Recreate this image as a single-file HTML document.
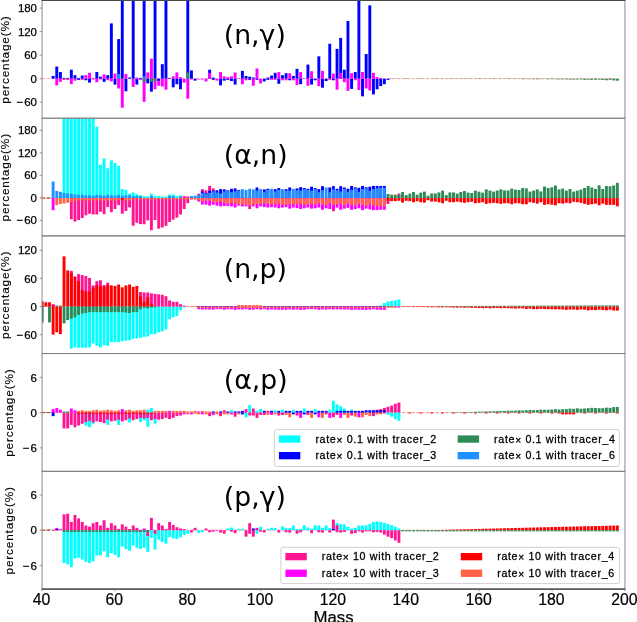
<!DOCTYPE html>
<html lang="en"><head><meta charset="utf-8"><title>Rate sensitivity by mass</title>
<style>html,body{margin:0;padding:0;background:#fff}svg{display:block}</style></head><body>
<svg width="637" height="622" viewBox="0 0 637 622">
<rect width="637" height="622" fill="#fff"/>
<defs>
<clipPath id="cp0"><rect x="42.05" y="0.5" width="582.9" height="117.7"/></clipPath>
<clipPath id="cp1"><rect x="42.05" y="118.2" width="582.9" height="117.7"/></clipPath>
<clipPath id="cp2"><rect x="42.05" y="235.9" width="582.9" height="117.7"/></clipPath>
<clipPath id="cp3"><rect x="42.05" y="353.6" width="582.9" height="117.7"/></clipPath>
<clipPath id="cp4"><rect x="42.05" y="471.3" width="582.9" height="117.7"/></clipPath>
</defs>
<g clip-path="url(#cp0)" shape-rendering="auto">
<line x1="42.05" x2="619" y1="78.7" y2="78.7" stroke="#ff0000" stroke-opacity="0.4" stroke-width="0.8" stroke-dasharray="3.2,1.6"/>
<rect x="51.67" y="75.95" width="2.91" height="2.75" fill="#0000ff"/>
<rect x="55.31" y="66.54" width="2.91" height="12.16" fill="#0000ff"/>
<rect x="55.31" y="78.7" width="2.91" height="6.67" fill="#ff00ff"/>
<rect x="58.95" y="72.03" width="2.91" height="6.67" fill="#0000ff"/>
<rect x="58.95" y="78.7" width="2.91" height="3.14" fill="#ff00ff"/>
<rect x="62.59" y="78.7" width="2.91" height="1.18" fill="#ff1493"/>
<rect x="62.59" y="77.92" width="2.91" height="0.78" fill="#0000ff"/>
<rect x="66.23" y="78.7" width="2.91" height="1.18" fill="#ff1493"/>
<rect x="66.23" y="77.92" width="2.91" height="0.78" fill="#0000ff"/>
<rect x="69.87" y="69.68" width="2.91" height="9.02" fill="#0000ff"/>
<rect x="69.87" y="78.7" width="2.91" height="5.49" fill="#ff00ff"/>
<rect x="73.51" y="75.17" width="2.91" height="3.53" fill="#0000ff"/>
<rect x="73.51" y="78.7" width="2.91" height="1.96" fill="#ff00ff"/>
<rect x="77.14" y="78.7" width="2.91" height="1.18" fill="#0000ff"/>
<rect x="77.14" y="77.92" width="2.91" height="0.78" fill="#0000ff"/>
<rect x="80.79" y="75.56" width="2.91" height="3.14" fill="#0000ff"/>
<rect x="80.79" y="78.7" width="2.91" height="1.18" fill="#ff00ff"/>
<rect x="84.42" y="75.17" width="2.91" height="3.53" fill="#ff00ff"/>
<rect x="84.42" y="78.7" width="2.91" height="1.57" fill="#0000ff"/>
<rect x="88.07" y="72.82" width="2.91" height="5.88" fill="#ff00ff"/>
<rect x="88.07" y="78.7" width="2.91" height="3.92" fill="#0000ff"/>
<rect x="91.7" y="77.92" width="2.91" height="0.78" fill="#ff00ff"/>
<rect x="91.7" y="78.7" width="2.91" height="0.78" fill="#ff1493"/>
<rect x="95.35" y="72.03" width="2.91" height="6.67" fill="#0000ff"/>
<rect x="95.35" y="78.7" width="2.91" height="3.53" fill="#ff00ff"/>
<rect x="98.98" y="76.74" width="2.91" height="1.96" fill="#0000ff"/>
<rect x="98.98" y="78.7" width="2.91" height="0.78" fill="#ff00ff"/>
<rect x="102.63" y="74.38" width="2.91" height="4.32" fill="#ff00ff"/>
<rect x="102.63" y="78.7" width="2.91" height="3.14" fill="#0000ff"/>
<rect x="106.27" y="75.17" width="2.91" height="3.53" fill="#0000ff"/>
<rect x="106.27" y="78.7" width="2.91" height="1.57" fill="#ff00ff"/>
<rect x="109.91" y="23.39" width="2.91" height="55.31" fill="#0000ff"/>
<rect x="109.91" y="78.7" width="2.91" height="2.75" fill="#ff00ff"/>
<rect x="113.55" y="78.7" width="2.91" height="5.88" fill="#0000ff"/>
<rect x="113.55" y="73.6" width="2.91" height="5.1" fill="#ff00ff"/>
<rect x="117.19" y="39.08" width="2.91" height="39.62" fill="#0000ff"/>
<rect x="117.19" y="78.7" width="2.91" height="9.81" fill="#ff00ff"/>
<rect x="117.19" y="73.99" width="2.91" height="4.71" fill="#1e90ff"/>
<rect x="120.83" y="-1.5" width="2.91" height="80.2" fill="#0000ff"/>
<rect x="120.83" y="78.7" width="2.91" height="29.03" fill="#ff00ff"/>
<rect x="124.47" y="78.7" width="2.91" height="12.55" fill="#0000ff"/>
<rect x="124.47" y="73.99" width="2.91" height="4.71" fill="#ff00ff"/>
<rect x="128.1" y="77.52" width="2.91" height="1.18" fill="#0000ff"/>
<rect x="131.74" y="-1.5" width="2.91" height="80.2" fill="#0000ff"/>
<rect x="131.74" y="78.7" width="2.91" height="8.24" fill="#ff00ff"/>
<rect x="135.38" y="78.7" width="2.91" height="5.88" fill="#0000ff"/>
<rect x="135.38" y="77.52" width="2.91" height="1.18" fill="#ff00ff"/>
<rect x="139.03" y="78.7" width="2.91" height="1.18" fill="#ff00ff"/>
<rect x="139.03" y="77.92" width="2.91" height="0.78" fill="#0000ff"/>
<rect x="142.66" y="-1.5" width="2.91" height="80.2" fill="#0000ff"/>
<rect x="142.66" y="78.7" width="2.91" height="23.15" fill="#ff00ff"/>
<rect x="142.66" y="78.7" width="2.91" height="3.14" fill="#2e8b57"/>
<rect x="142.66" y="76.35" width="2.91" height="2.35" fill="#1e90ff"/>
<rect x="146.3" y="72.42" width="2.91" height="6.28" fill="#ff00ff"/>
<rect x="146.3" y="78.7" width="2.91" height="4.71" fill="#0000ff"/>
<rect x="149.94" y="58.69" width="2.91" height="20.01" fill="#ff00ff"/>
<rect x="149.94" y="78.7" width="2.91" height="12.95" fill="#0000ff"/>
<rect x="149.94" y="78.7" width="2.91" height="3.14" fill="#2e8b57"/>
<rect x="153.59" y="-1.5" width="2.91" height="80.2" fill="#0000ff"/>
<rect x="153.59" y="78.7" width="2.91" height="10.59" fill="#ff00ff"/>
<rect x="153.59" y="78.7" width="2.91" height="2.75" fill="#2e8b57"/>
<rect x="157.22" y="78.7" width="2.91" height="7.06" fill="#ff00ff"/>
<rect x="157.22" y="78.7" width="2.91" height="1.96" fill="#0000ff"/>
<rect x="160.86" y="64.18" width="2.91" height="14.52" fill="#0000ff"/>
<rect x="160.86" y="78.7" width="2.91" height="7.85" fill="#ff00ff"/>
<rect x="164.5" y="-1.5" width="2.91" height="80.2" fill="#0000ff"/>
<rect x="164.5" y="78.7" width="2.91" height="10.98" fill="#ff00ff"/>
<rect x="168.15" y="77.92" width="2.91" height="0.78" fill="#0000ff"/>
<rect x="171.78" y="78.7" width="2.91" height="8.63" fill="#0000ff"/>
<rect x="171.78" y="76.35" width="2.91" height="2.35" fill="#ff00ff"/>
<rect x="175.42" y="72.42" width="2.91" height="6.28" fill="#ff00ff"/>
<rect x="175.42" y="78.7" width="2.91" height="5.49" fill="#0000ff"/>
<rect x="179.06" y="78.7" width="2.91" height="10.59" fill="#0000ff"/>
<rect x="179.06" y="77.13" width="2.91" height="1.57" fill="#ff00ff"/>
<rect x="182.71" y="78.7" width="2.91" height="3.92" fill="#ff00ff"/>
<rect x="186.34" y="-1.5" width="2.91" height="80.2" fill="#0000ff"/>
<rect x="186.34" y="78.7" width="2.91" height="20.01" fill="#ff00ff"/>
<rect x="186.34" y="72.42" width="2.91" height="6.28" fill="#2e8b57"/>
<rect x="189.98" y="70.46" width="2.91" height="8.24" fill="#0000ff"/>
<rect x="189.98" y="78.7" width="2.91" height="0.78" fill="#ff00ff"/>
<rect x="193.62" y="78.7" width="2.91" height="1.96" fill="#0000ff"/>
<rect x="197.27" y="78.7" width="2.91" height="0.78" fill="#ff00ff"/>
<rect x="200.91" y="78.7" width="2.91" height="0.78" fill="#ff00ff"/>
<rect x="204.54" y="78.7" width="2.91" height="2.75" fill="#ff00ff"/>
<rect x="208.18" y="69.68" width="2.91" height="9.02" fill="#0000ff"/>
<rect x="208.18" y="72.82" width="2.91" height="5.88" fill="#ff00ff"/>
<rect x="211.83" y="77.52" width="2.91" height="1.18" fill="#0000ff"/>
<rect x="211.83" y="78.7" width="2.91" height="1.18" fill="#0000ff"/>
<rect x="215.47" y="78.7" width="2.91" height="1.96" fill="#ff00ff"/>
<rect x="219.1" y="72.03" width="2.91" height="6.67" fill="#ff00ff"/>
<rect x="219.1" y="78.7" width="2.91" height="6.67" fill="#0000ff"/>
<rect x="222.74" y="76.35" width="2.91" height="2.35" fill="#ff00ff"/>
<rect x="222.74" y="78.7" width="2.91" height="1.96" fill="#0000ff"/>
<rect x="226.39" y="77.13" width="2.91" height="1.57" fill="#ff00ff"/>
<rect x="226.39" y="78.7" width="2.91" height="1.18" fill="#0000ff"/>
<rect x="230.03" y="76.35" width="2.91" height="2.35" fill="#ff00ff"/>
<rect x="230.03" y="78.7" width="2.91" height="2.35" fill="#0000ff"/>
<rect x="233.66" y="72.42" width="2.91" height="6.28" fill="#ff00ff"/>
<rect x="233.66" y="78.7" width="2.91" height="5.88" fill="#0000ff"/>
<rect x="237.3" y="78.31" width="2.91" height="0.39" fill="#0000ff"/>
<rect x="240.95" y="70.85" width="2.91" height="7.85" fill="#0000ff"/>
<rect x="240.95" y="78.7" width="2.91" height="5.49" fill="#ff00ff"/>
<rect x="244.59" y="75.95" width="2.91" height="2.75" fill="#0000ff"/>
<rect x="244.59" y="78.7" width="2.91" height="1.57" fill="#ff00ff"/>
<rect x="248.22" y="76.74" width="2.91" height="1.96" fill="#0000ff"/>
<rect x="248.22" y="78.7" width="2.91" height="1.18" fill="#0000ff"/>
<rect x="251.86" y="78.7" width="2.91" height="7.06" fill="#ff00ff"/>
<rect x="251.86" y="77.52" width="2.91" height="1.18" fill="#0000ff"/>
<rect x="255.51" y="68.5" width="2.91" height="10.2" fill="#ff00ff"/>
<rect x="255.51" y="78.7" width="2.91" height="1.18" fill="#0000ff"/>
<rect x="259.15" y="78.7" width="2.91" height="4.71" fill="#ff00ff"/>
<rect x="262.79" y="78.7" width="2.91" height="2.75" fill="#0000ff"/>
<rect x="266.43" y="77.52" width="2.91" height="1.18" fill="#0000ff"/>
<rect x="266.43" y="78.7" width="2.91" height="1.18" fill="#0000ff"/>
<rect x="270.07" y="75.56" width="2.91" height="3.14" fill="#0000ff"/>
<rect x="270.07" y="78.7" width="2.91" height="1.18" fill="#ff00ff"/>
<rect x="273.71" y="72.82" width="2.91" height="5.88" fill="#0000ff"/>
<rect x="273.71" y="78.7" width="2.91" height="1.18" fill="#ff00ff"/>
<rect x="277.35" y="72.03" width="2.91" height="6.67" fill="#ff00ff"/>
<rect x="277.35" y="78.7" width="2.91" height="5.1" fill="#0000ff"/>
<rect x="280.99" y="75.17" width="2.91" height="3.53" fill="#0000ff"/>
<rect x="280.99" y="78.7" width="2.91" height="1.57" fill="#ff00ff"/>
<rect x="284.62" y="73.21" width="2.91" height="5.49" fill="#0000ff"/>
<rect x="284.62" y="78.7" width="2.91" height="1.57" fill="#ff00ff"/>
<rect x="288.27" y="73.21" width="2.91" height="5.49" fill="#ff00ff"/>
<rect x="288.27" y="78.7" width="2.91" height="1.57" fill="#0000ff"/>
<rect x="291.91" y="75.95" width="2.91" height="2.75" fill="#0000ff"/>
<rect x="291.91" y="78.7" width="2.91" height="1.57" fill="#ff00ff"/>
<rect x="295.55" y="68.89" width="2.91" height="9.81" fill="#0000ff"/>
<rect x="295.55" y="78.7" width="2.91" height="6.28" fill="#ff00ff"/>
<rect x="299.19" y="72.03" width="2.91" height="6.67" fill="#ff00ff"/>
<rect x="299.19" y="78.7" width="2.91" height="5.49" fill="#0000ff"/>
<rect x="302.82" y="78.31" width="2.91" height="0.39" fill="#0000ff"/>
<rect x="306.47" y="64.58" width="2.91" height="14.12" fill="#0000ff"/>
<rect x="306.47" y="78.7" width="2.91" height="7.06" fill="#ff00ff"/>
<rect x="310.11" y="71.25" width="2.91" height="7.45" fill="#ff00ff"/>
<rect x="310.11" y="78.7" width="2.91" height="5.88" fill="#0000ff"/>
<rect x="313.75" y="78.7" width="2.91" height="1.57" fill="#0000ff"/>
<rect x="317.38" y="56.34" width="2.91" height="22.36" fill="#0000ff"/>
<rect x="317.38" y="78.7" width="2.91" height="7.45" fill="#ff00ff"/>
<rect x="321.03" y="78.7" width="2.91" height="9.02" fill="#0000ff"/>
<rect x="321.03" y="70.85" width="2.91" height="7.85" fill="#ff00ff"/>
<rect x="324.67" y="78.7" width="2.91" height="2.35" fill="#0000ff"/>
<rect x="328.31" y="43.79" width="2.91" height="34.91" fill="#0000ff"/>
<rect x="328.31" y="78.7" width="2.91" height="1.18" fill="#ff00ff"/>
<rect x="331.94" y="73.6" width="2.91" height="5.1" fill="#ff00ff"/>
<rect x="331.94" y="78.7" width="2.91" height="1.57" fill="#0000ff"/>
<rect x="335.59" y="48.89" width="2.91" height="29.81" fill="#0000ff"/>
<rect x="335.59" y="78.7" width="2.91" height="10.98" fill="#ff00ff"/>
<rect x="339.23" y="37.9" width="2.91" height="40.8" fill="#0000ff"/>
<rect x="339.23" y="72.82" width="2.91" height="5.88" fill="#ff00ff"/>
<rect x="342.87" y="69.68" width="2.91" height="9.02" fill="#0000ff"/>
<rect x="342.87" y="78.7" width="2.91" height="3.53" fill="#ff00ff"/>
<rect x="346.5" y="21.03" width="2.91" height="57.67" fill="#0000ff"/>
<rect x="346.5" y="78.7" width="2.91" height="12.16" fill="#ff00ff"/>
<rect x="350.15" y="78.7" width="2.91" height="10.2" fill="#0000ff"/>
<rect x="350.15" y="73.21" width="2.91" height="5.49" fill="#ff00ff"/>
<rect x="353.79" y="72.03" width="2.91" height="6.67" fill="#0000ff"/>
<rect x="353.79" y="78.7" width="2.91" height="1.57" fill="#ff00ff"/>
<rect x="357.43" y="-1.5" width="2.91" height="80.2" fill="#0000ff"/>
<rect x="357.43" y="78.7" width="2.91" height="11.38" fill="#ff00ff"/>
<rect x="361.06" y="78.7" width="2.91" height="17.65" fill="#0000ff"/>
<rect x="361.06" y="72.03" width="2.91" height="6.67" fill="#ff00ff"/>
<rect x="364.71" y="53.99" width="2.91" height="24.71" fill="#0000ff"/>
<rect x="364.71" y="78.7" width="2.91" height="9.81" fill="#ff00ff"/>
<rect x="368.35" y="5.34" width="2.91" height="73.36" fill="#0000ff"/>
<rect x="368.35" y="78.7" width="2.91" height="11.77" fill="#ff00ff"/>
<rect x="371.99" y="78.7" width="2.91" height="15.69" fill="#0000ff"/>
<rect x="371.99" y="72.82" width="2.91" height="5.88" fill="#ff00ff"/>
<rect x="375.62" y="78.7" width="2.91" height="10.59" fill="#0000ff"/>
<rect x="375.62" y="77.13" width="2.91" height="1.57" fill="#ff00ff"/>
<rect x="379.27" y="78.7" width="2.91" height="7.45" fill="#0000ff"/>
<rect x="379.27" y="77.92" width="2.91" height="0.78" fill="#ff00ff"/>
<rect x="382.91" y="78.7" width="2.91" height="5.49" fill="#0000ff"/>
<rect x="386.55" y="78.7" width="2.91" height="1.18" fill="#0000ff"/>
<rect x="390.19" y="78.5" width="2.91" height="0.2" fill="#ff0000"/>
<rect x="390.19" y="78.7" width="2.91" height="0.16" fill="#2e8b57"/>
<rect x="393.82" y="78.7" width="2.91" height="0.17" fill="#2e8b57"/>
<rect x="397.47" y="78.7" width="2.91" height="0.23" fill="#2e8b57"/>
<rect x="401.11" y="78.7" width="2.91" height="0.21" fill="#2e8b57"/>
<rect x="404.75" y="78.7" width="2.91" height="0.23" fill="#2e8b57"/>
<rect x="404.75" y="78.5" width="2.91" height="0.2" fill="#ff0000"/>
<rect x="408.38" y="78.7" width="2.91" height="0.18" fill="#2e8b57"/>
<rect x="412.03" y="78.7" width="2.91" height="0.15" fill="#2e8b57"/>
<rect x="415.67" y="78.7" width="2.91" height="0.17" fill="#2e8b57"/>
<rect x="419.31" y="78.7" width="2.91" height="0.23" fill="#2e8b57"/>
<rect x="419.31" y="78.5" width="2.91" height="0.2" fill="#ff0000"/>
<rect x="422.94" y="78.7" width="2.91" height="0.17" fill="#2e8b57"/>
<rect x="426.59" y="78.7" width="2.91" height="0.18" fill="#2e8b57"/>
<rect x="430.23" y="78.7" width="2.91" height="0.19" fill="#2e8b57"/>
<rect x="433.87" y="78.5" width="2.91" height="0.2" fill="#ff0000"/>
<rect x="433.87" y="78.7" width="2.91" height="0.19" fill="#2e8b57"/>
<rect x="437.5" y="78.7" width="2.91" height="0.19" fill="#2e8b57"/>
<rect x="441.15" y="78.7" width="2.91" height="0.25" fill="#2e8b57"/>
<rect x="444.79" y="78.7" width="2.91" height="0.16" fill="#2e8b57"/>
<rect x="448.43" y="78.5" width="2.91" height="0.2" fill="#ff0000"/>
<rect x="448.43" y="78.7" width="2.91" height="0.14" fill="#2e8b57"/>
<rect x="452.06" y="78.7" width="2.91" height="0.26" fill="#2e8b57"/>
<rect x="455.71" y="78.7" width="2.91" height="0.25" fill="#2e8b57"/>
<rect x="459.35" y="78.7" width="2.91" height="0.27" fill="#2e8b57"/>
<rect x="462.99" y="78.7" width="2.91" height="0.2" fill="#2e8b57"/>
<rect x="462.99" y="78.5" width="2.91" height="0.2" fill="#ff0000"/>
<rect x="466.62" y="78.7" width="2.91" height="0.27" fill="#2e8b57"/>
<rect x="470.27" y="78.7" width="2.91" height="0.27" fill="#2e8b57"/>
<rect x="473.91" y="78.7" width="2.91" height="0.19" fill="#2e8b57"/>
<rect x="477.55" y="78.7" width="2.91" height="0.26" fill="#2e8b57"/>
<rect x="477.55" y="78.5" width="2.91" height="0.2" fill="#ff0000"/>
<rect x="481.19" y="78.7" width="2.91" height="0.28" fill="#2e8b57"/>
<rect x="484.83" y="78.7" width="2.91" height="0.26" fill="#2e8b57"/>
<rect x="488.47" y="78.7" width="2.91" height="0.25" fill="#2e8b57"/>
<rect x="492.11" y="78.7" width="2.91" height="0.22" fill="#2e8b57"/>
<rect x="492.11" y="78.5" width="2.91" height="0.2" fill="#ff0000"/>
<rect x="495.75" y="78.7" width="2.91" height="0.24" fill="#2e8b57"/>
<rect x="499.39" y="78.7" width="2.91" height="0.23" fill="#2e8b57"/>
<rect x="503.03" y="78.7" width="2.91" height="0.21" fill="#2e8b57"/>
<rect x="506.67" y="78.7" width="2.91" height="0.31" fill="#2e8b57"/>
<rect x="506.67" y="78.5" width="2.91" height="0.2" fill="#ff0000"/>
<rect x="510.31" y="78.7" width="2.91" height="0.27" fill="#2e8b57"/>
<rect x="513.94" y="78.7" width="2.91" height="0.38" fill="#2e8b57"/>
<rect x="517.59" y="78.7" width="2.91" height="0.24" fill="#2e8b57"/>
<rect x="521.23" y="78.7" width="2.91" height="0.44" fill="#2e8b57"/>
<rect x="521.23" y="78.5" width="2.91" height="0.2" fill="#ff0000"/>
<rect x="524.87" y="78.7" width="2.91" height="0.41" fill="#2e8b57"/>
<rect x="528.5" y="78.7" width="2.91" height="0.49" fill="#2e8b57"/>
<rect x="532.14" y="78.7" width="2.91" height="0.51" fill="#2e8b57"/>
<rect x="535.78" y="78.7" width="2.91" height="0.54" fill="#2e8b57"/>
<rect x="535.78" y="78.5" width="2.91" height="0.2" fill="#ff0000"/>
<rect x="539.42" y="78.7" width="2.91" height="0.48" fill="#2e8b57"/>
<rect x="543.06" y="78.7" width="2.91" height="0.34" fill="#2e8b57"/>
<rect x="546.71" y="78.7" width="2.91" height="0.59" fill="#2e8b57"/>
<rect x="550.35" y="78.7" width="2.91" height="0.44" fill="#2e8b57"/>
<rect x="550.35" y="78.5" width="2.91" height="0.2" fill="#ff0000"/>
<rect x="553.99" y="78.7" width="2.91" height="0.51" fill="#2e8b57"/>
<rect x="557.62" y="78.7" width="2.91" height="0.67" fill="#2e8b57"/>
<rect x="561.26" y="78.7" width="2.91" height="0.66" fill="#2e8b57"/>
<rect x="564.9" y="78.7" width="2.91" height="0.65" fill="#2e8b57"/>
<rect x="564.9" y="78.5" width="2.91" height="0.2" fill="#ff0000"/>
<rect x="568.55" y="78.7" width="2.91" height="0.92" fill="#2e8b57"/>
<rect x="572.19" y="78.7" width="2.91" height="0.83" fill="#2e8b57"/>
<rect x="575.83" y="78.7" width="2.91" height="0.75" fill="#2e8b57"/>
<rect x="579.47" y="78.7" width="2.91" height="0.75" fill="#2e8b57"/>
<rect x="579.47" y="78.5" width="2.91" height="0.2" fill="#ff0000"/>
<rect x="583.11" y="78.7" width="2.91" height="1.13" fill="#2e8b57"/>
<rect x="586.75" y="78.7" width="2.91" height="0.97" fill="#2e8b57"/>
<rect x="590.38" y="78.7" width="2.91" height="1.22" fill="#2e8b57"/>
<rect x="594.02" y="78.7" width="2.91" height="1.01" fill="#2e8b57"/>
<rect x="594.02" y="78.5" width="2.91" height="0.2" fill="#ff0000"/>
<rect x="597.67" y="78.7" width="2.91" height="0.96" fill="#2e8b57"/>
<rect x="601.31" y="78.7" width="2.91" height="1.27" fill="#2e8b57"/>
<rect x="604.95" y="78.7" width="2.91" height="1.57" fill="#2e8b57"/>
<rect x="608.59" y="78.7" width="2.91" height="1.12" fill="#2e8b57"/>
<rect x="608.59" y="78.5" width="2.91" height="0.2" fill="#ff0000"/>
<rect x="612.23" y="78.7" width="2.91" height="1.74" fill="#2e8b57"/>
<rect x="615.87" y="78.7" width="2.91" height="1.97" fill="#2e8b57"/>
</g>
<g clip-path="url(#cp1)" shape-rendering="auto">
<line x1="42.05" x2="619" y1="198.15" y2="198.15" stroke="#ff0000" stroke-opacity="0.55" stroke-width="0.8" stroke-dasharray="3.2,1.6"/>
<line x1="42.05" x2="52" y1="198.15" y2="198.15" stroke="#ff0000" stroke-opacity="0.8" stroke-width="1" stroke-dasharray="3.2,1.6"/>
<rect x="44.39" y="197.78" width="2.91" height="0.38" fill="#2e8b57"/>
<rect x="48.03" y="197.7" width="2.91" height="0.45" fill="#2e8b57"/>
<rect x="51.67" y="181.56" width="2.91" height="16.59" fill="#1e90ff"/>
<rect x="51.67" y="198.15" width="2.91" height="12.04" fill="#ff00ff"/>
<rect x="55.31" y="190.97" width="2.91" height="7.18" fill="#1e90ff"/>
<rect x="55.31" y="198.15" width="2.91" height="6.94" fill="#ff6347"/>
<rect x="58.95" y="191.76" width="2.91" height="6.39" fill="#1e90ff"/>
<rect x="58.95" y="198.15" width="2.91" height="5.77" fill="#ff6347"/>
<rect x="62.59" y="116.2" width="2.91" height="81.95" fill="#00ffff"/>
<rect x="62.59" y="198.15" width="2.91" height="5.38" fill="#ff6347"/>
<rect x="62.59" y="192.94" width="2.91" height="5.21" fill="#1e90ff"/>
<rect x="66.23" y="116.2" width="2.91" height="81.95" fill="#00ffff"/>
<rect x="66.23" y="193.33" width="2.91" height="4.82" fill="#1e90ff"/>
<rect x="66.23" y="198.15" width="2.91" height="4.59" fill="#ff6347"/>
<rect x="69.87" y="116.2" width="2.91" height="81.95" fill="#00ffff"/>
<rect x="69.87" y="198.15" width="2.91" height="21.07" fill="#ff1493"/>
<rect x="69.87" y="193.72" width="2.91" height="4.43" fill="#1e90ff"/>
<rect x="69.87" y="198.15" width="2.91" height="3.75" fill="#ff6347"/>
<rect x="73.51" y="116.2" width="2.91" height="81.95" fill="#00ffff"/>
<rect x="73.51" y="198.15" width="2.91" height="23.42" fill="#ff1493"/>
<rect x="73.51" y="194.5" width="2.91" height="3.65" fill="#1e90ff"/>
<rect x="73.51" y="198.15" width="2.91" height="2.62" fill="#ff6347"/>
<rect x="77.14" y="116.2" width="2.91" height="81.95" fill="#00ffff"/>
<rect x="77.14" y="198.15" width="2.91" height="21.85" fill="#ff1493"/>
<rect x="77.14" y="194.9" width="2.91" height="3.25" fill="#1e90ff"/>
<rect x="77.14" y="198.15" width="2.91" height="2.25" fill="#ff6347"/>
<rect x="80.79" y="116.2" width="2.91" height="81.95" fill="#00ffff"/>
<rect x="80.79" y="198.15" width="2.91" height="19.89" fill="#ff1493"/>
<rect x="80.79" y="194.9" width="2.91" height="3.25" fill="#1e90ff"/>
<rect x="80.79" y="198.15" width="2.91" height="2.25" fill="#ff6347"/>
<rect x="84.42" y="116.2" width="2.91" height="81.95" fill="#00ffff"/>
<rect x="84.42" y="198.15" width="2.91" height="17.14" fill="#ff1493"/>
<rect x="84.42" y="195.29" width="2.91" height="2.86" fill="#1e90ff"/>
<rect x="84.42" y="198.15" width="2.91" height="2.25" fill="#ff6347"/>
<rect x="88.07" y="116.2" width="2.91" height="81.95" fill="#00ffff"/>
<rect x="88.07" y="198.15" width="2.91" height="15.57" fill="#ff1493"/>
<rect x="88.07" y="195.29" width="2.91" height="2.86" fill="#1e90ff"/>
<rect x="88.07" y="198.15" width="2.91" height="2.25" fill="#ff6347"/>
<rect x="91.7" y="116.2" width="2.91" height="81.95" fill="#00ffff"/>
<rect x="91.7" y="198.15" width="2.91" height="16.36" fill="#ff1493"/>
<rect x="91.7" y="195.68" width="2.91" height="2.47" fill="#1e90ff"/>
<rect x="91.7" y="198.15" width="2.91" height="2.25" fill="#ff6347"/>
<rect x="95.35" y="126.65" width="2.91" height="71.5" fill="#00ffff"/>
<rect x="95.35" y="198.15" width="2.91" height="16.36" fill="#ff1493"/>
<rect x="95.35" y="194.9" width="2.91" height="3.25" fill="#1e90ff"/>
<rect x="95.35" y="198.15" width="2.91" height="2.25" fill="#ff6347"/>
<rect x="98.98" y="164.69" width="2.91" height="33.46" fill="#00ffff"/>
<rect x="98.98" y="198.15" width="2.91" height="13.61" fill="#ff1493"/>
<rect x="98.98" y="195.29" width="2.91" height="2.86" fill="#1e90ff"/>
<rect x="98.98" y="198.15" width="2.91" height="2.25" fill="#ff6347"/>
<rect x="102.63" y="158.42" width="2.91" height="39.73" fill="#00ffff"/>
<rect x="102.63" y="198.15" width="2.91" height="15.97" fill="#ff1493"/>
<rect x="102.63" y="195.68" width="2.91" height="2.47" fill="#1e90ff"/>
<rect x="102.63" y="198.15" width="2.91" height="2.25" fill="#ff6347"/>
<rect x="106.27" y="168.22" width="2.91" height="29.93" fill="#00ffff"/>
<rect x="106.27" y="198.15" width="2.91" height="8.91" fill="#ff1493"/>
<rect x="106.27" y="194.9" width="2.91" height="3.25" fill="#1e90ff"/>
<rect x="106.27" y="198.15" width="2.91" height="2.25" fill="#ff6347"/>
<rect x="109.91" y="160.38" width="2.91" height="37.77" fill="#00ffff"/>
<rect x="109.91" y="198.15" width="2.91" height="14.01" fill="#ff1493"/>
<rect x="109.91" y="195.29" width="2.91" height="2.86" fill="#1e90ff"/>
<rect x="109.91" y="198.15" width="2.91" height="2.25" fill="#ff6347"/>
<rect x="113.55" y="163.12" width="2.91" height="35.03" fill="#00ffff"/>
<rect x="113.55" y="198.15" width="2.91" height="10.87" fill="#ff1493"/>
<rect x="113.55" y="195.68" width="2.91" height="2.47" fill="#1e90ff"/>
<rect x="113.55" y="198.15" width="2.91" height="2.25" fill="#ff6347"/>
<rect x="117.19" y="165.87" width="2.91" height="32.28" fill="#00ffff"/>
<rect x="117.19" y="198.15" width="2.91" height="6.94" fill="#ff1493"/>
<rect x="117.19" y="194.9" width="2.91" height="3.25" fill="#1e90ff"/>
<rect x="117.19" y="198.15" width="2.91" height="2.25" fill="#ff6347"/>
<rect x="120.83" y="198.15" width="2.91" height="15.57" fill="#ff1493"/>
<rect x="120.83" y="189.01" width="2.91" height="9.14" fill="#00ffff"/>
<rect x="120.83" y="195.68" width="2.91" height="2.47" fill="#1e90ff"/>
<rect x="120.83" y="198.15" width="2.91" height="2.25" fill="#ff0000"/>
<rect x="124.47" y="198.15" width="2.91" height="12.83" fill="#ff1493"/>
<rect x="124.47" y="189.8" width="2.91" height="8.35" fill="#00ffff"/>
<rect x="124.47" y="195.29" width="2.91" height="2.86" fill="#1e90ff"/>
<rect x="124.47" y="198.15" width="2.91" height="2.25" fill="#ff6347"/>
<rect x="128.1" y="198.15" width="2.91" height="9.3" fill="#ff1493"/>
<rect x="128.1" y="193.72" width="2.91" height="4.43" fill="#00ffff"/>
<rect x="128.1" y="195.29" width="2.91" height="2.86" fill="#1e90ff"/>
<rect x="128.1" y="198.15" width="2.91" height="2.25" fill="#ff6347"/>
<rect x="131.74" y="198.15" width="2.91" height="27.54" fill="#ff1493"/>
<rect x="131.74" y="192.54" width="2.91" height="5.61" fill="#00ffff"/>
<rect x="131.74" y="196.07" width="2.91" height="2.08" fill="#1e90ff"/>
<rect x="131.74" y="198.15" width="2.91" height="1.12" fill="#ff6347"/>
<rect x="135.38" y="198.15" width="2.91" height="24.6" fill="#ff1493"/>
<rect x="135.38" y="194.11" width="2.91" height="4.04" fill="#00ffff"/>
<rect x="135.38" y="196.07" width="2.91" height="2.08" fill="#1e90ff"/>
<rect x="135.38" y="198.15" width="2.91" height="1.12" fill="#ff6347"/>
<rect x="139.03" y="198.15" width="2.91" height="25.97" fill="#ff1493"/>
<rect x="139.03" y="195.29" width="2.91" height="2.86" fill="#00ffff"/>
<rect x="139.03" y="196.07" width="2.91" height="2.08" fill="#1e90ff"/>
<rect x="139.03" y="198.15" width="2.91" height="1.12" fill="#ff6347"/>
<rect x="142.66" y="198.15" width="2.91" height="25.97" fill="#ff1493"/>
<rect x="142.66" y="196.07" width="2.91" height="2.08" fill="#00ffff"/>
<rect x="142.66" y="198.15" width="2.91" height="1.12" fill="#ff6347"/>
<rect x="146.3" y="198.15" width="2.91" height="22.24" fill="#ff1493"/>
<rect x="146.3" y="196.47" width="2.91" height="1.68" fill="#00ffff"/>
<rect x="146.3" y="198.15" width="2.91" height="1.12" fill="#ff6347"/>
<rect x="149.94" y="198.15" width="2.91" height="32.05" fill="#ff1493"/>
<rect x="149.94" y="193.72" width="2.91" height="4.43" fill="#00ffff"/>
<rect x="149.94" y="196.07" width="2.91" height="2.08" fill="#1e90ff"/>
<rect x="149.94" y="198.15" width="2.91" height="1.12" fill="#ff6347"/>
<rect x="153.59" y="198.15" width="2.91" height="21.85" fill="#ff1493"/>
<rect x="153.59" y="196.07" width="2.91" height="2.08" fill="#00ffff"/>
<rect x="153.59" y="198.15" width="2.91" height="1.12" fill="#ff6347"/>
<rect x="157.22" y="198.15" width="2.91" height="30.48" fill="#ff1493"/>
<rect x="157.22" y="196.07" width="2.91" height="2.08" fill="#00ffff"/>
<rect x="157.22" y="198.15" width="2.91" height="1.12" fill="#ff6347"/>
<rect x="160.86" y="198.15" width="2.91" height="29.3" fill="#ff1493"/>
<rect x="160.86" y="196.47" width="2.91" height="1.68" fill="#00ffff"/>
<rect x="160.86" y="198.15" width="2.91" height="1.12" fill="#ff6347"/>
<rect x="164.5" y="198.15" width="2.91" height="27.73" fill="#ff1493"/>
<rect x="164.5" y="196.47" width="2.91" height="1.68" fill="#00ffff"/>
<rect x="164.5" y="198.15" width="2.91" height="1.12" fill="#ff6347"/>
<rect x="168.15" y="198.15" width="2.91" height="23.81" fill="#ff1493"/>
<rect x="168.15" y="194.5" width="2.91" height="3.65" fill="#00ffff"/>
<rect x="168.15" y="196.07" width="2.91" height="2.08" fill="#1e90ff"/>
<rect x="168.15" y="198.15" width="2.91" height="1.12" fill="#ff6347"/>
<rect x="171.78" y="198.15" width="2.91" height="21.46" fill="#ff1493"/>
<rect x="171.78" y="194.5" width="2.91" height="3.65" fill="#00ffff"/>
<rect x="171.78" y="196.07" width="2.91" height="2.08" fill="#1e90ff"/>
<rect x="171.78" y="198.15" width="2.91" height="1.12" fill="#ff6347"/>
<rect x="175.42" y="198.15" width="2.91" height="19.5" fill="#ff1493"/>
<rect x="175.42" y="196.07" width="2.91" height="2.08" fill="#00ffff"/>
<rect x="175.42" y="198.15" width="2.91" height="1.12" fill="#ff6347"/>
<rect x="179.06" y="198.15" width="2.91" height="16.36" fill="#ff1493"/>
<rect x="179.06" y="195.29" width="2.91" height="2.86" fill="#00ffff"/>
<rect x="179.06" y="196.47" width="2.91" height="1.68" fill="#1e90ff"/>
<rect x="179.06" y="198.15" width="2.91" height="1.12" fill="#ff6347"/>
<rect x="182.71" y="198.15" width="2.91" height="10.87" fill="#ff1493"/>
<rect x="182.71" y="196.07" width="2.91" height="2.08" fill="#ff1493"/>
<rect x="182.71" y="198.15" width="2.91" height="1.12" fill="#ff6347"/>
<rect x="186.34" y="198.15" width="2.91" height="4.98" fill="#ff1493"/>
<rect x="186.34" y="196.47" width="2.91" height="1.68" fill="#ff1493"/>
<rect x="186.34" y="198.15" width="2.91" height="1.12" fill="#ff6347"/>
<rect x="189.98" y="196.07" width="2.91" height="2.08" fill="#1e90ff"/>
<rect x="189.98" y="198.15" width="2.91" height="1.5" fill="#ff6347"/>
<rect x="193.62" y="195.68" width="2.91" height="2.47" fill="#1e90ff"/>
<rect x="193.62" y="198.15" width="2.91" height="1.5" fill="#ff6347"/>
<rect x="197.27" y="193.72" width="2.91" height="4.43" fill="#ff1493"/>
<rect x="197.27" y="198.15" width="2.91" height="3.38" fill="#ff00ff"/>
<rect x="197.27" y="194.9" width="2.91" height="3.25" fill="#1e90ff"/>
<rect x="197.27" y="198.15" width="2.91" height="1.88" fill="#ff6347"/>
<rect x="200.91" y="189.15" width="2.91" height="9" fill="#ff1493"/>
<rect x="200.91" y="191.4" width="2.91" height="6.75" fill="#0000ff"/>
<rect x="200.91" y="198.15" width="2.91" height="6.38" fill="#ff00ff"/>
<rect x="200.91" y="192.9" width="2.91" height="5.25" fill="#1e90ff"/>
<rect x="200.91" y="198.15" width="2.91" height="3.38" fill="#ff6347"/>
<rect x="204.54" y="190.28" width="2.91" height="7.88" fill="#ff1493"/>
<rect x="204.54" y="198.15" width="2.91" height="6.56" fill="#ff00ff"/>
<rect x="204.54" y="192.9" width="2.91" height="5.25" fill="#0000ff"/>
<rect x="204.54" y="193.65" width="2.91" height="4.5" fill="#1e90ff"/>
<rect x="204.54" y="198.15" width="2.91" height="2.62" fill="#ff6347"/>
<rect x="208.18" y="185.78" width="2.91" height="12.38" fill="#ff1493"/>
<rect x="208.18" y="190.65" width="2.91" height="7.5" fill="#0000ff"/>
<rect x="208.18" y="198.15" width="2.91" height="7.5" fill="#ff00ff"/>
<rect x="208.18" y="192.9" width="2.91" height="5.25" fill="#1e90ff"/>
<rect x="208.18" y="198.15" width="2.91" height="2.62" fill="#ff6347"/>
<rect x="211.83" y="188.4" width="2.91" height="9.75" fill="#ff1493"/>
<rect x="211.83" y="190.65" width="2.91" height="7.5" fill="#0000ff"/>
<rect x="211.83" y="191.4" width="2.91" height="6.75" fill="#1e90ff"/>
<rect x="211.83" y="198.15" width="2.91" height="6.56" fill="#ff00ff"/>
<rect x="211.83" y="198.15" width="2.91" height="4.12" fill="#ff6347"/>
<rect x="215.47" y="190.28" width="2.91" height="7.88" fill="#0000ff"/>
<rect x="215.47" y="198.15" width="2.91" height="7.5" fill="#ff00ff"/>
<rect x="215.47" y="192.53" width="2.91" height="5.62" fill="#1e90ff"/>
<rect x="215.47" y="198.15" width="2.91" height="4.12" fill="#ff6347"/>
<rect x="219.1" y="189.15" width="2.91" height="9" fill="#0000ff"/>
<rect x="219.1" y="198.15" width="2.91" height="8.25" fill="#ff00ff"/>
<rect x="219.1" y="193.46" width="2.91" height="4.69" fill="#1e90ff"/>
<rect x="219.1" y="198.15" width="2.91" height="3.38" fill="#ff6347"/>
<rect x="222.74" y="189.34" width="2.91" height="8.81" fill="#0000ff"/>
<rect x="222.74" y="198.15" width="2.91" height="7.88" fill="#ff00ff"/>
<rect x="222.74" y="191.4" width="2.91" height="6.75" fill="#1e90ff"/>
<rect x="222.74" y="198.15" width="2.91" height="4.69" fill="#ff6347"/>
<rect x="226.39" y="190.28" width="2.91" height="7.88" fill="#0000ff"/>
<rect x="226.39" y="198.15" width="2.91" height="7.88" fill="#ff00ff"/>
<rect x="226.39" y="190.65" width="2.91" height="7.5" fill="#1e90ff"/>
<rect x="226.39" y="198.15" width="2.91" height="5.81" fill="#ff6347"/>
<rect x="230.03" y="188.78" width="2.91" height="9.38" fill="#0000ff"/>
<rect x="230.03" y="198.15" width="2.91" height="8.25" fill="#ff00ff"/>
<rect x="230.03" y="192.15" width="2.91" height="6" fill="#1e90ff"/>
<rect x="230.03" y="198.15" width="2.91" height="4.69" fill="#ff6347"/>
<rect x="233.66" y="188.4" width="2.91" height="9.75" fill="#0000ff"/>
<rect x="233.66" y="198.15" width="2.91" height="9.38" fill="#ff00ff"/>
<rect x="233.66" y="191.4" width="2.91" height="6.75" fill="#1e90ff"/>
<rect x="233.66" y="198.15" width="2.91" height="5.47" fill="#ff6347"/>
<rect x="237.3" y="189.9" width="2.91" height="8.25" fill="#0000ff"/>
<rect x="237.3" y="190.65" width="2.91" height="7.5" fill="#1e90ff"/>
<rect x="237.3" y="198.15" width="2.91" height="7.5" fill="#ff00ff"/>
<rect x="237.3" y="198.15" width="2.91" height="6.26" fill="#ff6347"/>
<rect x="240.95" y="189.15" width="2.91" height="9" fill="#1e90ff"/>
<rect x="240.95" y="198.15" width="2.91" height="8.25" fill="#ff00ff"/>
<rect x="240.95" y="198.15" width="2.91" height="6.26" fill="#ff6347"/>
<rect x="244.59" y="189.9" width="2.91" height="8.25" fill="#1e90ff"/>
<rect x="244.59" y="198.15" width="2.91" height="8.25" fill="#ff00ff"/>
<rect x="244.59" y="198.15" width="2.91" height="6.6" fill="#ff6347"/>
<rect x="248.22" y="198.15" width="2.91" height="10.88" fill="#ff1493"/>
<rect x="248.22" y="188.78" width="2.91" height="9.38" fill="#1e90ff"/>
<rect x="248.22" y="198.15" width="2.91" height="6.9" fill="#ff6347"/>
<rect x="251.86" y="189.38" width="2.91" height="8.78" fill="#1e90ff"/>
<rect x="251.86" y="198.15" width="2.91" height="8.25" fill="#ff00ff"/>
<rect x="251.86" y="198.15" width="2.91" height="6.6" fill="#ff6347"/>
<rect x="255.51" y="187.46" width="2.91" height="10.69" fill="#0000ff"/>
<rect x="255.51" y="198.15" width="2.91" height="10.12" fill="#ff00ff"/>
<rect x="255.51" y="190.65" width="2.91" height="7.5" fill="#1e90ff"/>
<rect x="255.51" y="198.15" width="2.91" height="5.81" fill="#ff6347"/>
<rect x="259.15" y="189.15" width="2.91" height="9" fill="#1e90ff"/>
<rect x="259.15" y="198.15" width="2.91" height="8.25" fill="#ff00ff"/>
<rect x="259.15" y="198.15" width="2.91" height="5.81" fill="#ff6347"/>
<rect x="262.79" y="198.15" width="2.91" height="9" fill="#ff00ff"/>
<rect x="262.79" y="189.38" width="2.91" height="8.78" fill="#0000ff"/>
<rect x="262.79" y="191.89" width="2.91" height="6.26" fill="#1e90ff"/>
<rect x="262.79" y="198.15" width="2.91" height="5.03" fill="#ff6347"/>
<rect x="266.43" y="188.78" width="2.91" height="9.38" fill="#0000ff"/>
<rect x="266.43" y="198.15" width="2.91" height="9.38" fill="#ff00ff"/>
<rect x="266.43" y="189.9" width="2.91" height="8.25" fill="#1e90ff"/>
<rect x="266.43" y="198.15" width="2.91" height="5.81" fill="#ff6347"/>
<rect x="270.07" y="188.78" width="2.91" height="9.38" fill="#1e90ff"/>
<rect x="270.07" y="198.15" width="2.91" height="9" fill="#ff00ff"/>
<rect x="270.07" y="198.15" width="2.91" height="6.26" fill="#ff6347"/>
<rect x="273.71" y="198.15" width="2.91" height="9.38" fill="#ff00ff"/>
<rect x="273.71" y="189.15" width="2.91" height="9" fill="#0000ff"/>
<rect x="273.71" y="191.4" width="2.91" height="6.75" fill="#1e90ff"/>
<rect x="273.71" y="198.15" width="2.91" height="5.47" fill="#ff6347"/>
<rect x="277.35" y="188.03" width="2.91" height="10.12" fill="#0000ff"/>
<rect x="277.35" y="198.15" width="2.91" height="10.12" fill="#ff00ff"/>
<rect x="277.35" y="189.9" width="2.91" height="8.25" fill="#1e90ff"/>
<rect x="277.35" y="198.15" width="2.91" height="5.81" fill="#ff6347"/>
<rect x="280.99" y="198.15" width="2.91" height="9.38" fill="#ff00ff"/>
<rect x="280.99" y="189.15" width="2.91" height="9" fill="#1e90ff"/>
<rect x="280.99" y="198.15" width="2.91" height="6.6" fill="#ff6347"/>
<rect x="284.62" y="189.15" width="2.91" height="9" fill="#0000ff"/>
<rect x="284.62" y="198.15" width="2.91" height="9" fill="#ff00ff"/>
<rect x="284.62" y="190.65" width="2.91" height="7.5" fill="#1e90ff"/>
<rect x="284.62" y="198.15" width="2.91" height="6.6" fill="#ff6347"/>
<rect x="288.27" y="187.46" width="2.91" height="10.69" fill="#0000ff"/>
<rect x="288.27" y="198.15" width="2.91" height="10.5" fill="#ff00ff"/>
<rect x="288.27" y="190.65" width="2.91" height="7.5" fill="#1e90ff"/>
<rect x="288.27" y="198.15" width="2.91" height="5.81" fill="#ff6347"/>
<rect x="291.91" y="188.78" width="2.91" height="9.38" fill="#1e90ff"/>
<rect x="291.91" y="198.15" width="2.91" height="9.38" fill="#ff00ff"/>
<rect x="291.91" y="198.15" width="2.91" height="6.26" fill="#ff6347"/>
<rect x="295.55" y="198.15" width="2.91" height="9.94" fill="#ff00ff"/>
<rect x="295.55" y="188.4" width="2.91" height="9.75" fill="#0000ff"/>
<rect x="295.55" y="190.28" width="2.91" height="7.88" fill="#1e90ff"/>
<rect x="295.55" y="198.15" width="2.91" height="6.19" fill="#ff6347"/>
<rect x="299.19" y="187.16" width="2.91" height="10.99" fill="#0000ff"/>
<rect x="299.19" y="198.15" width="2.91" height="10.88" fill="#ff00ff"/>
<rect x="299.19" y="190.65" width="2.91" height="7.5" fill="#1e90ff"/>
<rect x="299.19" y="198.15" width="2.91" height="5.81" fill="#ff6347"/>
<rect x="302.82" y="188.03" width="2.91" height="10.12" fill="#0000ff"/>
<rect x="302.82" y="198.15" width="2.91" height="10.12" fill="#ff00ff"/>
<rect x="302.82" y="189.15" width="2.91" height="9" fill="#1e90ff"/>
<rect x="302.82" y="198.15" width="2.91" height="6.6" fill="#ff6347"/>
<rect x="306.47" y="188.78" width="2.91" height="9.38" fill="#0000ff"/>
<rect x="306.47" y="198.15" width="2.91" height="9.38" fill="#ff00ff"/>
<rect x="306.47" y="189.9" width="2.91" height="8.25" fill="#1e90ff"/>
<rect x="306.47" y="198.15" width="2.91" height="6.6" fill="#ff6347"/>
<rect x="310.11" y="186.71" width="2.91" height="11.44" fill="#0000ff"/>
<rect x="310.11" y="198.15" width="2.91" height="10.5" fill="#ff00ff"/>
<rect x="310.11" y="190.65" width="2.91" height="7.5" fill="#1e90ff"/>
<rect x="310.11" y="198.15" width="2.91" height="5.81" fill="#ff6347"/>
<rect x="313.75" y="188.03" width="2.91" height="10.12" fill="#0000ff"/>
<rect x="313.75" y="198.15" width="2.91" height="10.12" fill="#ff00ff"/>
<rect x="313.75" y="189.15" width="2.91" height="9" fill="#1e90ff"/>
<rect x="313.75" y="198.15" width="2.91" height="6.6" fill="#ff6347"/>
<rect x="317.38" y="198.15" width="2.91" height="9.38" fill="#ff00ff"/>
<rect x="317.38" y="189.15" width="2.91" height="9" fill="#0000ff"/>
<rect x="317.38" y="192.15" width="2.91" height="6" fill="#1e90ff"/>
<rect x="317.38" y="198.15" width="2.91" height="5.03" fill="#ff6347"/>
<rect x="321.03" y="186.15" width="2.91" height="12" fill="#0000ff"/>
<rect x="321.03" y="198.15" width="2.91" height="11.62" fill="#ff00ff"/>
<rect x="321.03" y="190.28" width="2.91" height="7.88" fill="#1e90ff"/>
<rect x="321.03" y="198.15" width="2.91" height="6.26" fill="#ff6347"/>
<rect x="324.67" y="187.46" width="2.91" height="10.69" fill="#1e90ff"/>
<rect x="324.67" y="198.15" width="2.91" height="10.12" fill="#ff00ff"/>
<rect x="324.67" y="198.15" width="2.91" height="6.9" fill="#ff6347"/>
<rect x="328.31" y="198.15" width="2.91" height="10.88" fill="#ff00ff"/>
<rect x="328.31" y="187.46" width="2.91" height="10.69" fill="#0000ff"/>
<rect x="328.31" y="192.15" width="2.91" height="6" fill="#1e90ff"/>
<rect x="328.31" y="198.15" width="2.91" height="5.03" fill="#ff6347"/>
<rect x="331.94" y="198.15" width="2.91" height="13.12" fill="#ff1493"/>
<rect x="331.94" y="186.15" width="2.91" height="12" fill="#0000ff"/>
<rect x="331.94" y="198.15" width="2.91" height="11.25" fill="#ff00ff"/>
<rect x="331.94" y="189.38" width="2.91" height="8.78" fill="#1e90ff"/>
<rect x="331.94" y="198.15" width="2.91" height="6.9" fill="#ff6347"/>
<rect x="335.59" y="188.78" width="2.91" height="9.38" fill="#0000ff"/>
<rect x="335.59" y="198.15" width="2.91" height="9.38" fill="#ff00ff"/>
<rect x="335.59" y="190.28" width="2.91" height="7.88" fill="#1e90ff"/>
<rect x="335.59" y="198.15" width="2.91" height="6.26" fill="#ff6347"/>
<rect x="339.23" y="186.15" width="2.91" height="12" fill="#0000ff"/>
<rect x="339.23" y="198.15" width="2.91" height="11.62" fill="#ff00ff"/>
<rect x="339.23" y="191.4" width="2.91" height="6.75" fill="#1e90ff"/>
<rect x="339.23" y="198.15" width="2.91" height="5.81" fill="#ff6347"/>
<rect x="342.87" y="187.46" width="2.91" height="10.69" fill="#0000ff"/>
<rect x="342.87" y="198.15" width="2.91" height="10.5" fill="#ff00ff"/>
<rect x="342.87" y="188.78" width="2.91" height="9.38" fill="#1e90ff"/>
<rect x="342.87" y="198.15" width="2.91" height="7.39" fill="#ff6347"/>
<rect x="346.5" y="198.15" width="2.91" height="9.75" fill="#ff00ff"/>
<rect x="346.5" y="188.78" width="2.91" height="9.38" fill="#0000ff"/>
<rect x="346.5" y="191.89" width="2.91" height="6.26" fill="#1e90ff"/>
<rect x="346.5" y="198.15" width="2.91" height="5.47" fill="#ff6347"/>
<rect x="350.15" y="185.93" width="2.91" height="12.22" fill="#0000ff"/>
<rect x="350.15" y="198.15" width="2.91" height="11.62" fill="#ff00ff"/>
<rect x="350.15" y="189.9" width="2.91" height="8.25" fill="#1e90ff"/>
<rect x="350.15" y="198.15" width="2.91" height="6.6" fill="#ff6347"/>
<rect x="353.79" y="187.28" width="2.91" height="10.88" fill="#0000ff"/>
<rect x="353.79" y="198.15" width="2.91" height="10.88" fill="#ff00ff"/>
<rect x="353.79" y="188.4" width="2.91" height="9.75" fill="#1e90ff"/>
<rect x="353.79" y="198.15" width="2.91" height="7.39" fill="#ff6347"/>
<rect x="357.43" y="187.8" width="2.91" height="10.35" fill="#0000ff"/>
<rect x="357.43" y="198.15" width="2.91" height="10.12" fill="#ff00ff"/>
<rect x="357.43" y="191.89" width="2.91" height="6.26" fill="#1e90ff"/>
<rect x="357.43" y="198.15" width="2.91" height="5.81" fill="#ff6347"/>
<rect x="361.06" y="185.93" width="2.91" height="12.22" fill="#0000ff"/>
<rect x="361.06" y="198.15" width="2.91" height="12" fill="#ff00ff"/>
<rect x="361.06" y="189.15" width="2.91" height="9" fill="#1e90ff"/>
<rect x="361.06" y="198.15" width="2.91" height="6.9" fill="#ff6347"/>
<rect x="364.71" y="187.28" width="2.91" height="10.88" fill="#0000ff"/>
<rect x="364.71" y="198.15" width="2.91" height="10.5" fill="#ff00ff"/>
<rect x="364.71" y="188.4" width="2.91" height="9.75" fill="#1e90ff"/>
<rect x="364.71" y="198.15" width="2.91" height="7.88" fill="#ff6347"/>
<rect x="368.35" y="186.71" width="2.91" height="11.44" fill="#0000ff"/>
<rect x="368.35" y="198.15" width="2.91" height="11.25" fill="#ff00ff"/>
<rect x="368.35" y="191.03" width="2.91" height="7.12" fill="#1e90ff"/>
<rect x="368.35" y="198.15" width="2.91" height="6.26" fill="#ff6347"/>
<rect x="371.99" y="185.93" width="2.91" height="12.22" fill="#0000ff"/>
<rect x="371.99" y="198.15" width="2.91" height="12" fill="#ff00ff"/>
<rect x="371.99" y="189.15" width="2.91" height="9" fill="#1e90ff"/>
<rect x="371.99" y="198.15" width="2.91" height="7.39" fill="#ff6347"/>
<rect x="375.62" y="185.93" width="2.91" height="12.22" fill="#0000ff"/>
<rect x="375.62" y="198.15" width="2.91" height="12" fill="#ff00ff"/>
<rect x="375.62" y="188.4" width="2.91" height="9.75" fill="#1e90ff"/>
<rect x="375.62" y="198.15" width="2.91" height="7.88" fill="#ff6347"/>
<rect x="379.27" y="185.93" width="2.91" height="12.22" fill="#0000ff"/>
<rect x="379.27" y="198.15" width="2.91" height="11.62" fill="#ff00ff"/>
<rect x="379.27" y="187.8" width="2.91" height="10.35" fill="#1e90ff"/>
<rect x="379.27" y="198.15" width="2.91" height="8.18" fill="#ff6347"/>
<rect x="382.91" y="185.93" width="2.91" height="12.22" fill="#0000ff"/>
<rect x="382.91" y="198.15" width="2.91" height="11.62" fill="#ff00ff"/>
<rect x="382.91" y="187.8" width="2.91" height="10.35" fill="#1e90ff"/>
<rect x="382.91" y="198.15" width="2.91" height="8.18" fill="#ff6347"/>
<rect x="386.55" y="198.15" width="2.91" height="5.81" fill="#ff1493"/>
<rect x="386.55" y="194.03" width="2.91" height="4.12" fill="#2e8b57"/>
<rect x="386.55" y="198.15" width="2.91" height="2.62" fill="#ff0000"/>
<rect x="390.19" y="194.68" width="2.91" height="3.47" fill="#2e8b57"/>
<rect x="390.19" y="198.15" width="2.91" height="3.06" fill="#ff0000"/>
<rect x="393.82" y="194.68" width="2.91" height="3.47" fill="#2e8b57"/>
<rect x="393.82" y="198.15" width="2.91" height="3.06" fill="#ff0000"/>
<rect x="397.47" y="193.59" width="2.91" height="4.56" fill="#ff1493"/>
<rect x="397.47" y="195.09" width="2.91" height="3.06" fill="#2e8b57"/>
<rect x="397.47" y="198.15" width="2.91" height="2.65" fill="#ff0000"/>
<rect x="401.11" y="192.03" width="2.91" height="6.12" fill="#2e8b57"/>
<rect x="401.11" y="198.15" width="2.91" height="4.49" fill="#ff0000"/>
<rect x="404.75" y="195.09" width="2.91" height="3.06" fill="#2e8b57"/>
<rect x="404.75" y="198.15" width="2.91" height="2.65" fill="#ff0000"/>
<rect x="408.38" y="193.66" width="2.91" height="4.49" fill="#2e8b57"/>
<rect x="408.38" y="198.15" width="2.91" height="3.06" fill="#ff0000"/>
<rect x="412.03" y="192.03" width="2.91" height="6.12" fill="#2e8b57"/>
<rect x="412.03" y="198.15" width="2.91" height="4.08" fill="#ff0000"/>
<rect x="415.67" y="194.68" width="2.91" height="3.47" fill="#2e8b57"/>
<rect x="415.67" y="198.15" width="2.91" height="3.06" fill="#ff0000"/>
<rect x="419.31" y="192.64" width="2.91" height="5.51" fill="#2e8b57"/>
<rect x="419.31" y="198.15" width="2.91" height="4.08" fill="#ff0000"/>
<rect x="422.94" y="191.62" width="2.91" height="6.53" fill="#2e8b57"/>
<rect x="422.94" y="198.15" width="2.91" height="4.49" fill="#ff0000"/>
<rect x="426.59" y="195.7" width="2.91" height="2.45" fill="#2e8b57"/>
<rect x="426.59" y="198.15" width="2.91" height="2.04" fill="#ff0000"/>
<rect x="430.23" y="193.46" width="2.91" height="4.69" fill="#2e8b57"/>
<rect x="430.23" y="198.15" width="2.91" height="3.47" fill="#ff0000"/>
<rect x="433.87" y="193.46" width="2.91" height="4.69" fill="#2e8b57"/>
<rect x="433.87" y="198.15" width="2.91" height="3.47" fill="#ff0000"/>
<rect x="437.5" y="192.44" width="2.91" height="5.71" fill="#2e8b57"/>
<rect x="437.5" y="198.15" width="2.91" height="4.08" fill="#ff0000"/>
<rect x="441.15" y="190.6" width="2.91" height="7.55" fill="#2e8b57"/>
<rect x="441.15" y="198.15" width="2.91" height="5.1" fill="#ff0000"/>
<rect x="444.79" y="195.09" width="2.91" height="3.06" fill="#2e8b57"/>
<rect x="444.79" y="198.15" width="2.91" height="2.65" fill="#ff0000"/>
<rect x="448.43" y="192.44" width="2.91" height="5.71" fill="#2e8b57"/>
<rect x="448.43" y="198.15" width="2.91" height="4.08" fill="#ff0000"/>
<rect x="452.06" y="192.44" width="2.91" height="5.71" fill="#2e8b57"/>
<rect x="452.06" y="198.15" width="2.91" height="4.08" fill="#ff0000"/>
<rect x="455.71" y="193.66" width="2.91" height="4.49" fill="#2e8b57"/>
<rect x="455.71" y="198.15" width="2.91" height="3.47" fill="#ff0000"/>
<rect x="459.35" y="192.03" width="2.91" height="6.12" fill="#2e8b57"/>
<rect x="459.35" y="198.15" width="2.91" height="4.08" fill="#ff0000"/>
<rect x="462.99" y="191.01" width="2.91" height="7.14" fill="#2e8b57"/>
<rect x="462.99" y="198.15" width="2.91" height="4.69" fill="#ff0000"/>
<rect x="466.62" y="192.64" width="2.91" height="5.51" fill="#2e8b57"/>
<rect x="466.62" y="198.15" width="2.91" height="4.08" fill="#ff0000"/>
<rect x="470.27" y="193.05" width="2.91" height="5.1" fill="#2e8b57"/>
<rect x="470.27" y="198.15" width="2.91" height="3.67" fill="#ff0000"/>
<rect x="473.91" y="190.6" width="2.91" height="7.55" fill="#2e8b57"/>
<rect x="473.91" y="198.15" width="2.91" height="5.1" fill="#ff0000"/>
<rect x="477.55" y="191.62" width="2.91" height="6.53" fill="#2e8b57"/>
<rect x="477.55" y="198.15" width="2.91" height="4.69" fill="#ff0000"/>
<rect x="481.19" y="192.64" width="2.91" height="5.51" fill="#2e8b57"/>
<rect x="481.19" y="198.15" width="2.91" height="4.08" fill="#ff0000"/>
<rect x="484.83" y="189.37" width="2.91" height="8.78" fill="#2e8b57"/>
<rect x="484.83" y="198.15" width="2.91" height="5.71" fill="#ff0000"/>
<rect x="488.47" y="190.6" width="2.91" height="7.55" fill="#2e8b57"/>
<rect x="488.47" y="198.15" width="2.91" height="5.1" fill="#ff0000"/>
<rect x="492.11" y="191.62" width="2.91" height="6.53" fill="#2e8b57"/>
<rect x="492.11" y="198.15" width="2.91" height="4.69" fill="#ff0000"/>
<rect x="495.75" y="190.6" width="2.91" height="7.55" fill="#2e8b57"/>
<rect x="495.75" y="198.15" width="2.91" height="5.1" fill="#ff0000"/>
<rect x="499.39" y="189.37" width="2.91" height="8.78" fill="#2e8b57"/>
<rect x="499.39" y="198.15" width="2.91" height="5.71" fill="#ff0000"/>
<rect x="503.03" y="190.39" width="2.91" height="7.76" fill="#2e8b57"/>
<rect x="503.03" y="198.15" width="2.91" height="5.1" fill="#ff0000"/>
<rect x="506.67" y="190.39" width="2.91" height="7.76" fill="#2e8b57"/>
<rect x="506.67" y="198.15" width="2.91" height="5.1" fill="#ff0000"/>
<rect x="510.31" y="188.56" width="2.91" height="9.59" fill="#2e8b57"/>
<rect x="510.31" y="198.15" width="2.91" height="6.12" fill="#ff0000"/>
<rect x="513.94" y="189.58" width="2.91" height="8.57" fill="#2e8b57"/>
<rect x="513.94" y="198.15" width="2.91" height="5.1" fill="#ff0000"/>
<rect x="517.59" y="189.99" width="2.91" height="8.16" fill="#2e8b57"/>
<rect x="517.59" y="198.15" width="2.91" height="5.1" fill="#ff0000"/>
<rect x="521.23" y="187.95" width="2.91" height="10.2" fill="#2e8b57"/>
<rect x="521.23" y="198.15" width="2.91" height="6.12" fill="#ff0000"/>
<rect x="524.87" y="188.35" width="2.91" height="9.8" fill="#2e8b57"/>
<rect x="524.87" y="198.15" width="2.91" height="6.12" fill="#ff0000"/>
<rect x="528.5" y="191.62" width="2.91" height="6.53" fill="#2e8b57"/>
<rect x="528.5" y="198.15" width="2.91" height="4.08" fill="#ff0000"/>
<rect x="532.14" y="190.6" width="2.91" height="7.55" fill="#2e8b57"/>
<rect x="532.14" y="198.15" width="2.91" height="4.69" fill="#ff0000"/>
<rect x="535.78" y="189.37" width="2.91" height="8.78" fill="#2e8b57"/>
<rect x="535.78" y="198.15" width="2.91" height="5.51" fill="#ff0000"/>
<rect x="539.42" y="191.42" width="2.91" height="6.73" fill="#2e8b57"/>
<rect x="539.42" y="198.15" width="2.91" height="4.08" fill="#ff0000"/>
<rect x="543.06" y="186.52" width="2.91" height="11.63" fill="#2e8b57"/>
<rect x="543.06" y="198.15" width="2.91" height="6.73" fill="#ff0000"/>
<rect x="546.71" y="187.95" width="2.91" height="10.2" fill="#2e8b57"/>
<rect x="546.71" y="198.15" width="2.91" height="6.12" fill="#ff0000"/>
<rect x="550.35" y="187.33" width="2.91" height="10.82" fill="#2e8b57"/>
<rect x="550.35" y="198.15" width="2.91" height="6.53" fill="#ff0000"/>
<rect x="553.99" y="185.5" width="2.91" height="12.65" fill="#2e8b57"/>
<rect x="553.99" y="198.15" width="2.91" height="7.14" fill="#ff0000"/>
<rect x="557.62" y="189.37" width="2.91" height="8.78" fill="#2e8b57"/>
<rect x="557.62" y="198.15" width="2.91" height="5.1" fill="#ff0000"/>
<rect x="561.26" y="188.56" width="2.91" height="9.59" fill="#2e8b57"/>
<rect x="561.26" y="198.15" width="2.91" height="5.51" fill="#ff0000"/>
<rect x="564.9" y="190.6" width="2.91" height="7.55" fill="#2e8b57"/>
<rect x="564.9" y="198.15" width="2.91" height="4.69" fill="#ff0000"/>
<rect x="568.55" y="188.97" width="2.91" height="9.18" fill="#2e8b57"/>
<rect x="568.55" y="198.15" width="2.91" height="5.1" fill="#ff0000"/>
<rect x="572.19" y="191.62" width="2.91" height="6.53" fill="#2e8b57"/>
<rect x="572.19" y="198.15" width="2.91" height="3.67" fill="#ff0000"/>
<rect x="575.83" y="190.6" width="2.91" height="7.55" fill="#2e8b57"/>
<rect x="575.83" y="198.15" width="2.91" height="4.08" fill="#ff0000"/>
<rect x="579.47" y="189.58" width="2.91" height="8.57" fill="#2e8b57"/>
<rect x="579.47" y="198.15" width="2.91" height="4.69" fill="#ff0000"/>
<rect x="583.11" y="187.95" width="2.91" height="10.2" fill="#2e8b57"/>
<rect x="583.11" y="198.15" width="2.91" height="5.71" fill="#ff0000"/>
<rect x="586.75" y="185.91" width="2.91" height="12.24" fill="#2e8b57"/>
<rect x="586.75" y="198.15" width="2.91" height="6.73" fill="#ff0000"/>
<rect x="590.38" y="187.54" width="2.91" height="10.61" fill="#2e8b57"/>
<rect x="590.38" y="198.15" width="2.91" height="6.12" fill="#ff0000"/>
<rect x="594.02" y="188.97" width="2.91" height="9.18" fill="#2e8b57"/>
<rect x="594.02" y="198.15" width="2.91" height="5.51" fill="#ff0000"/>
<rect x="597.67" y="185.29" width="2.91" height="12.86" fill="#2e8b57"/>
<rect x="597.67" y="198.15" width="2.91" height="7.14" fill="#ff0000"/>
<rect x="601.31" y="188.97" width="2.91" height="9.18" fill="#2e8b57"/>
<rect x="601.31" y="198.15" width="2.91" height="5.51" fill="#ff0000"/>
<rect x="604.95" y="185.91" width="2.91" height="12.24" fill="#2e8b57"/>
<rect x="604.95" y="198.15" width="2.91" height="6.73" fill="#ff0000"/>
<rect x="608.59" y="186.31" width="2.91" height="11.84" fill="#2e8b57"/>
<rect x="608.59" y="198.15" width="2.91" height="6.73" fill="#ff0000"/>
<rect x="612.23" y="185.5" width="2.91" height="12.65" fill="#2e8b57"/>
<rect x="612.23" y="198.15" width="2.91" height="6.73" fill="#ff0000"/>
<rect x="615.87" y="182.84" width="2.91" height="15.31" fill="#2e8b57"/>
<rect x="615.87" y="198.15" width="2.91" height="8.16" fill="#ff0000"/>
</g>
<g clip-path="url(#cp2)" shape-rendering="auto">
<line x1="42.05" x2="619" y1="306.5" y2="306.5" stroke="#ff0000" stroke-opacity="0.55" stroke-width="0.8" stroke-dasharray="3.2,1.6"/>
<rect x="40.75" y="306.5" width="2.91" height="15.94" fill="#2e8b57"/>
<rect x="40.75" y="301.34" width="2.91" height="5.16" fill="#ff0000"/>
<rect x="44.39" y="302.28" width="2.91" height="4.22" fill="#ff0000"/>
<rect x="48.03" y="306.5" width="2.91" height="15.94" fill="#2e8b57"/>
<rect x="48.03" y="302.28" width="2.91" height="4.22" fill="#ff0000"/>
<rect x="51.67" y="306.5" width="2.91" height="28.12" fill="#ff0000"/>
<rect x="51.67" y="304.16" width="2.91" height="2.34" fill="#ff00ff"/>
<rect x="51.67" y="305.09" width="2.91" height="1.41" fill="#ff0000"/>
<rect x="55.31" y="306.5" width="2.91" height="25.78" fill="#ff0000"/>
<rect x="55.31" y="305.56" width="2.91" height="0.94" fill="#2e8b57"/>
<rect x="58.95" y="306.5" width="2.91" height="27.65" fill="#ff0000"/>
<rect x="58.95" y="305.56" width="2.91" height="0.94" fill="#2e8b57"/>
<rect x="62.59" y="256.35" width="2.91" height="50.15" fill="#ff0000"/>
<rect x="62.59" y="306.5" width="2.91" height="16.87" fill="#2e8b57"/>
<rect x="66.23" y="270.41" width="2.91" height="36.09" fill="#ff0000"/>
<rect x="66.23" y="306.5" width="2.91" height="13.59" fill="#2e8b57"/>
<rect x="69.87" y="306.5" width="2.91" height="42.18" fill="#00ffff"/>
<rect x="69.87" y="270.88" width="2.91" height="35.62" fill="#ff1493"/>
<rect x="69.87" y="272.75" width="2.91" height="33.75" fill="#ff0000"/>
<rect x="69.87" y="306.5" width="2.91" height="12.19" fill="#2e8b57"/>
<rect x="73.51" y="306.5" width="2.91" height="40.78" fill="#00ffff"/>
<rect x="73.51" y="276.5" width="2.91" height="30" fill="#ff0000"/>
<rect x="73.51" y="306.5" width="2.91" height="10.78" fill="#2e8b57"/>
<rect x="77.14" y="306.5" width="2.91" height="41.25" fill="#00ffff"/>
<rect x="77.14" y="274.16" width="2.91" height="32.34" fill="#ff1493"/>
<rect x="77.14" y="281.19" width="2.91" height="25.31" fill="#ff0000"/>
<rect x="77.14" y="306.5" width="2.91" height="8.44" fill="#2e8b57"/>
<rect x="80.79" y="306.5" width="2.91" height="41.25" fill="#00ffff"/>
<rect x="80.79" y="275.1" width="2.91" height="31.4" fill="#ff1493"/>
<rect x="80.79" y="290.1" width="2.91" height="16.4" fill="#ff0000"/>
<rect x="80.79" y="306.5" width="2.91" height="7.03" fill="#2e8b57"/>
<rect x="84.42" y="306.5" width="2.91" height="41.25" fill="#00ffff"/>
<rect x="84.42" y="276.03" width="2.91" height="30.47" fill="#ff1493"/>
<rect x="84.42" y="291.5" width="2.91" height="15" fill="#ff0000"/>
<rect x="84.42" y="306.5" width="2.91" height="6.56" fill="#2e8b57"/>
<rect x="88.07" y="306.5" width="2.91" height="40.78" fill="#00ffff"/>
<rect x="88.07" y="277.91" width="2.91" height="28.59" fill="#ff1493"/>
<rect x="88.07" y="291.5" width="2.91" height="15" fill="#ff0000"/>
<rect x="88.07" y="306.5" width="2.91" height="5.62" fill="#2e8b57"/>
<rect x="91.7" y="306.5" width="2.91" height="37.03" fill="#00ffff"/>
<rect x="91.7" y="285.41" width="2.91" height="21.09" fill="#ff1493"/>
<rect x="91.7" y="287.75" width="2.91" height="18.75" fill="#ff0000"/>
<rect x="91.7" y="306.5" width="2.91" height="5.62" fill="#2e8b57"/>
<rect x="95.35" y="306.5" width="2.91" height="39.37" fill="#00ffff"/>
<rect x="95.35" y="281.19" width="2.91" height="25.31" fill="#ff1493"/>
<rect x="95.35" y="285.41" width="2.91" height="21.09" fill="#ff0000"/>
<rect x="95.35" y="306.5" width="2.91" height="5.62" fill="#2e8b57"/>
<rect x="98.98" y="306.5" width="2.91" height="40.78" fill="#00ffff"/>
<rect x="98.98" y="280.25" width="2.91" height="26.25" fill="#ff1493"/>
<rect x="98.98" y="285.88" width="2.91" height="20.62" fill="#ff0000"/>
<rect x="98.98" y="306.5" width="2.91" height="5.62" fill="#2e8b57"/>
<rect x="102.63" y="306.5" width="2.91" height="38.9" fill="#00ffff"/>
<rect x="102.63" y="284.94" width="2.91" height="21.56" fill="#ff1493"/>
<rect x="102.63" y="286.81" width="2.91" height="19.69" fill="#ff0000"/>
<rect x="102.63" y="306.5" width="2.91" height="5.62" fill="#2e8b57"/>
<rect x="106.27" y="306.5" width="2.91" height="39.37" fill="#00ffff"/>
<rect x="106.27" y="282.6" width="2.91" height="23.9" fill="#ff1493"/>
<rect x="106.27" y="284.94" width="2.91" height="21.56" fill="#ff0000"/>
<rect x="106.27" y="306.5" width="2.91" height="5.62" fill="#2e8b57"/>
<rect x="109.91" y="306.5" width="2.91" height="35.62" fill="#00ffff"/>
<rect x="109.91" y="285.41" width="2.91" height="21.09" fill="#ff0000"/>
<rect x="109.91" y="306.5" width="2.91" height="5.62" fill="#2e8b57"/>
<rect x="113.55" y="306.5" width="2.91" height="35.62" fill="#00ffff"/>
<rect x="113.55" y="285.88" width="2.91" height="20.62" fill="#ff0000"/>
<rect x="113.55" y="306.5" width="2.91" height="5.62" fill="#2e8b57"/>
<rect x="117.19" y="306.5" width="2.91" height="35.62" fill="#00ffff"/>
<rect x="117.19" y="284.47" width="2.91" height="22.03" fill="#ff0000"/>
<rect x="117.19" y="306.5" width="2.91" height="5.62" fill="#2e8b57"/>
<rect x="120.83" y="306.5" width="2.91" height="34.68" fill="#00ffff"/>
<rect x="120.83" y="287.28" width="2.91" height="19.22" fill="#ff0000"/>
<rect x="120.83" y="306.5" width="2.91" height="5.62" fill="#2e8b57"/>
<rect x="124.47" y="306.5" width="2.91" height="34.22" fill="#00ffff"/>
<rect x="124.47" y="285.41" width="2.91" height="21.09" fill="#ff0000"/>
<rect x="124.47" y="306.5" width="2.91" height="6.09" fill="#2e8b57"/>
<rect x="128.1" y="306.5" width="2.91" height="33.75" fill="#00ffff"/>
<rect x="128.1" y="284.47" width="2.91" height="22.03" fill="#ff0000"/>
<rect x="128.1" y="306.5" width="2.91" height="6.56" fill="#2e8b57"/>
<rect x="131.74" y="306.5" width="2.91" height="32.34" fill="#00ffff"/>
<rect x="131.74" y="286.81" width="2.91" height="19.69" fill="#ff0000"/>
<rect x="131.74" y="306.5" width="2.91" height="5.62" fill="#2e8b57"/>
<rect x="135.38" y="306.5" width="2.91" height="31.87" fill="#00ffff"/>
<rect x="135.38" y="285.88" width="2.91" height="20.62" fill="#ff0000"/>
<rect x="135.38" y="306.5" width="2.91" height="5.62" fill="#2e8b57"/>
<rect x="139.03" y="306.5" width="2.91" height="31.4" fill="#00ffff"/>
<rect x="139.03" y="291.97" width="2.91" height="14.53" fill="#ff1493"/>
<rect x="139.03" y="296.19" width="2.91" height="10.31" fill="#ff0000"/>
<rect x="139.03" y="306.5" width="2.91" height="2.81" fill="#2e8b57"/>
<rect x="142.66" y="306.5" width="2.91" height="30.47" fill="#00ffff"/>
<rect x="142.66" y="292.44" width="2.91" height="14.06" fill="#ff1493"/>
<rect x="142.66" y="301.81" width="2.91" height="4.69" fill="#ff0000"/>
<rect x="142.66" y="306.5" width="2.91" height="1.41" fill="#2e8b57"/>
<rect x="146.3" y="306.5" width="2.91" height="30" fill="#00ffff"/>
<rect x="146.3" y="292.44" width="2.91" height="14.06" fill="#ff1493"/>
<rect x="146.3" y="297.13" width="2.91" height="9.37" fill="#ff0000"/>
<rect x="146.3" y="306.5" width="2.91" height="1.87" fill="#2e8b57"/>
<rect x="149.94" y="306.5" width="2.91" height="27.65" fill="#00ffff"/>
<rect x="149.94" y="293.38" width="2.91" height="13.12" fill="#ff1493"/>
<rect x="149.94" y="303.69" width="2.91" height="2.81" fill="#ff0000"/>
<rect x="149.94" y="306.5" width="2.91" height="0.94" fill="#2e8b57"/>
<rect x="153.59" y="306.5" width="2.91" height="27.65" fill="#00ffff"/>
<rect x="153.59" y="293.85" width="2.91" height="12.65" fill="#ff1493"/>
<rect x="153.59" y="306.5" width="2.91" height="0.94" fill="#2e8b57"/>
<rect x="157.22" y="306.5" width="2.91" height="25.78" fill="#00ffff"/>
<rect x="157.22" y="294.31" width="2.91" height="12.19" fill="#ff1493"/>
<rect x="160.86" y="306.5" width="2.91" height="24.84" fill="#00ffff"/>
<rect x="160.86" y="294.78" width="2.91" height="11.72" fill="#ff1493"/>
<rect x="164.5" y="306.5" width="2.91" height="22.97" fill="#00ffff"/>
<rect x="164.5" y="296.19" width="2.91" height="10.31" fill="#ff1493"/>
<rect x="168.15" y="306.5" width="2.91" height="12.65" fill="#00ffff"/>
<rect x="168.15" y="300.41" width="2.91" height="6.09" fill="#ff1493"/>
<rect x="171.78" y="306.5" width="2.91" height="10.78" fill="#00ffff"/>
<rect x="171.78" y="301.81" width="2.91" height="4.69" fill="#ff1493"/>
<rect x="175.42" y="306.5" width="2.91" height="9.37" fill="#00ffff"/>
<rect x="175.42" y="301.81" width="2.91" height="4.69" fill="#ff1493"/>
<rect x="179.06" y="306.5" width="2.91" height="3.75" fill="#00ffff"/>
<rect x="179.06" y="304.16" width="2.91" height="2.34" fill="#ff1493"/>
<rect x="182.71" y="305.56" width="2.91" height="0.94" fill="#ff1493"/>
<rect x="182.71" y="306.5" width="2.91" height="0.94" fill="#00ffff"/>
<rect x="186.34" y="306.5" width="2.91" height="0.47" fill="#ff6347"/>
<rect x="189.98" y="306.5" width="2.91" height="0.7" fill="#ff6347"/>
<rect x="193.62" y="306.5" width="2.91" height="0.47" fill="#ff6347"/>
<rect x="197.27" y="306.5" width="2.91" height="2.78" fill="#ff00ff"/>
<rect x="197.27" y="306.5" width="2.91" height="1.5" fill="#ff6347"/>
<rect x="197.27" y="306.08" width="2.91" height="0.42" fill="#0000ff"/>
<rect x="200.91" y="306.5" width="2.91" height="3.04" fill="#ff00ff"/>
<rect x="200.91" y="306.5" width="2.91" height="1.5" fill="#ff6347"/>
<rect x="200.91" y="306.08" width="2.91" height="0.42" fill="#0000ff"/>
<rect x="204.54" y="306.5" width="2.91" height="2.89" fill="#ff00ff"/>
<rect x="204.54" y="306.5" width="2.91" height="1.5" fill="#ff6347"/>
<rect x="204.54" y="306.08" width="2.91" height="0.42" fill="#0000ff"/>
<rect x="208.18" y="306.5" width="2.91" height="3.09" fill="#ff00ff"/>
<rect x="208.18" y="306.5" width="2.91" height="1.5" fill="#ff6347"/>
<rect x="208.18" y="306.08" width="2.91" height="0.42" fill="#0000ff"/>
<rect x="211.83" y="306.5" width="2.91" height="3.11" fill="#ff00ff"/>
<rect x="211.83" y="306.5" width="2.91" height="1.5" fill="#ff6347"/>
<rect x="211.83" y="306.08" width="2.91" height="0.42" fill="#0000ff"/>
<rect x="215.47" y="306.5" width="2.91" height="2.63" fill="#ff00ff"/>
<rect x="215.47" y="306.5" width="2.91" height="1.5" fill="#ff6347"/>
<rect x="215.47" y="306.08" width="2.91" height="0.42" fill="#0000ff"/>
<rect x="219.1" y="306.5" width="2.91" height="2.59" fill="#ff00ff"/>
<rect x="219.1" y="306.5" width="2.91" height="1.5" fill="#ff6347"/>
<rect x="219.1" y="306.08" width="2.91" height="0.42" fill="#0000ff"/>
<rect x="222.74" y="306.5" width="2.91" height="3.28" fill="#ff00ff"/>
<rect x="222.74" y="306.5" width="2.91" height="1.5" fill="#ff6347"/>
<rect x="222.74" y="306.08" width="2.91" height="0.42" fill="#0000ff"/>
<rect x="226.39" y="306.5" width="2.91" height="2.8" fill="#ff00ff"/>
<rect x="226.39" y="306.5" width="2.91" height="1.5" fill="#ff6347"/>
<rect x="226.39" y="306.08" width="2.91" height="0.42" fill="#0000ff"/>
<rect x="230.03" y="306.5" width="2.91" height="2.78" fill="#ff00ff"/>
<rect x="230.03" y="306.5" width="2.91" height="1.5" fill="#ff6347"/>
<rect x="230.03" y="306.08" width="2.91" height="0.42" fill="#0000ff"/>
<rect x="233.66" y="306.5" width="2.91" height="3.42" fill="#ff00ff"/>
<rect x="233.66" y="306.5" width="2.91" height="1.5" fill="#ff6347"/>
<rect x="233.66" y="306.08" width="2.91" height="0.42" fill="#0000ff"/>
<rect x="237.3" y="306.5" width="2.91" height="2.97" fill="#ff00ff"/>
<rect x="237.3" y="304.94" width="2.91" height="1.56" fill="#ff6347"/>
<rect x="237.3" y="306.5" width="2.91" height="1.5" fill="#ff6347"/>
<rect x="240.95" y="306.5" width="2.91" height="2.98" fill="#ff00ff"/>
<rect x="240.95" y="306.5" width="2.91" height="1.5" fill="#ff6347"/>
<rect x="240.95" y="305.03" width="2.91" height="1.47" fill="#ff6347"/>
<rect x="244.59" y="306.5" width="2.91" height="2.7" fill="#ff00ff"/>
<rect x="244.59" y="306.5" width="2.91" height="1.5" fill="#ff6347"/>
<rect x="244.59" y="305.03" width="2.91" height="1.47" fill="#ff6347"/>
<rect x="248.22" y="306.5" width="2.91" height="3.31" fill="#ff00ff"/>
<rect x="248.22" y="306.5" width="2.91" height="1.5" fill="#ff6347"/>
<rect x="248.22" y="305.08" width="2.91" height="1.42" fill="#ff6347"/>
<rect x="251.86" y="306.5" width="2.91" height="3.2" fill="#ff00ff"/>
<rect x="251.86" y="306.5" width="2.91" height="1.5" fill="#ff6347"/>
<rect x="251.86" y="305.01" width="2.91" height="1.49" fill="#ff6347"/>
<rect x="255.51" y="306.5" width="2.91" height="2.63" fill="#ff00ff"/>
<rect x="255.51" y="304.97" width="2.91" height="1.53" fill="#ff6347"/>
<rect x="255.51" y="306.5" width="2.91" height="1.5" fill="#ff6347"/>
<rect x="259.15" y="306.5" width="2.91" height="3.08" fill="#ff00ff"/>
<rect x="259.15" y="306.5" width="2.91" height="1.5" fill="#ff6347"/>
<rect x="259.15" y="305.19" width="2.91" height="1.31" fill="#ff6347"/>
<rect x="262.79" y="306.5" width="2.91" height="2.6" fill="#ff00ff"/>
<rect x="262.79" y="306.5" width="2.91" height="1.5" fill="#ff6347"/>
<rect x="262.79" y="306.08" width="2.91" height="0.42" fill="#0000ff"/>
<rect x="266.43" y="306.5" width="2.91" height="3.31" fill="#ff00ff"/>
<rect x="266.43" y="306.5" width="2.91" height="1.5" fill="#ff6347"/>
<rect x="266.43" y="306.08" width="2.91" height="0.42" fill="#0000ff"/>
<rect x="270.07" y="306.5" width="2.91" height="2.98" fill="#ff00ff"/>
<rect x="270.07" y="306.5" width="2.91" height="1.5" fill="#ff6347"/>
<rect x="270.07" y="306.08" width="2.91" height="0.42" fill="#0000ff"/>
<rect x="273.71" y="306.5" width="2.91" height="3.18" fill="#ff00ff"/>
<rect x="273.71" y="306.5" width="2.91" height="1.5" fill="#ff6347"/>
<rect x="273.71" y="306.08" width="2.91" height="0.42" fill="#0000ff"/>
<rect x="277.35" y="306.5" width="2.91" height="3.32" fill="#ff00ff"/>
<rect x="277.35" y="306.5" width="2.91" height="1.5" fill="#ff6347"/>
<rect x="277.35" y="306.08" width="2.91" height="0.42" fill="#0000ff"/>
<rect x="280.99" y="306.5" width="2.91" height="3.18" fill="#ff00ff"/>
<rect x="280.99" y="306.5" width="2.91" height="1.5" fill="#ff6347"/>
<rect x="280.99" y="306.08" width="2.91" height="0.42" fill="#0000ff"/>
<rect x="284.62" y="306.5" width="2.91" height="3.35" fill="#ff00ff"/>
<rect x="284.62" y="306.5" width="2.91" height="1.5" fill="#ff6347"/>
<rect x="284.62" y="306.08" width="2.91" height="0.42" fill="#0000ff"/>
<rect x="288.27" y="306.5" width="2.91" height="2.91" fill="#ff00ff"/>
<rect x="288.27" y="306.5" width="2.91" height="1.5" fill="#ff6347"/>
<rect x="288.27" y="306.08" width="2.91" height="0.42" fill="#0000ff"/>
<rect x="291.91" y="306.5" width="2.91" height="3.25" fill="#ff00ff"/>
<rect x="291.91" y="306.5" width="2.91" height="1.5" fill="#ff6347"/>
<rect x="291.91" y="306.08" width="2.91" height="0.42" fill="#0000ff"/>
<rect x="295.55" y="306.5" width="2.91" height="2.95" fill="#ff00ff"/>
<rect x="295.55" y="306.5" width="2.91" height="1.5" fill="#ff6347"/>
<rect x="295.55" y="306.08" width="2.91" height="0.42" fill="#0000ff"/>
<rect x="299.19" y="306.5" width="2.91" height="3.37" fill="#ff00ff"/>
<rect x="299.19" y="306.5" width="2.91" height="1.5" fill="#ff6347"/>
<rect x="299.19" y="306.08" width="2.91" height="0.42" fill="#0000ff"/>
<rect x="302.82" y="306.5" width="2.91" height="3.32" fill="#ff00ff"/>
<rect x="302.82" y="306.5" width="2.91" height="1.5" fill="#ff6347"/>
<rect x="302.82" y="306.08" width="2.91" height="0.42" fill="#0000ff"/>
<rect x="306.47" y="306.5" width="2.91" height="2.66" fill="#ff00ff"/>
<rect x="306.47" y="306.5" width="2.91" height="1.5" fill="#ff6347"/>
<rect x="306.47" y="306.08" width="2.91" height="0.42" fill="#0000ff"/>
<rect x="310.11" y="306.5" width="2.91" height="2.69" fill="#ff00ff"/>
<rect x="310.11" y="306.5" width="2.91" height="1.5" fill="#ff6347"/>
<rect x="310.11" y="306.08" width="2.91" height="0.42" fill="#0000ff"/>
<rect x="313.75" y="306.5" width="2.91" height="2.76" fill="#ff00ff"/>
<rect x="313.75" y="306.5" width="2.91" height="1.5" fill="#ff6347"/>
<rect x="313.75" y="306.08" width="2.91" height="0.42" fill="#0000ff"/>
<rect x="317.38" y="306.5" width="2.91" height="3.39" fill="#ff00ff"/>
<rect x="317.38" y="306.5" width="2.91" height="1.5" fill="#ff6347"/>
<rect x="317.38" y="306.08" width="2.91" height="0.42" fill="#0000ff"/>
<rect x="321.03" y="306.5" width="2.91" height="2.95" fill="#ff00ff"/>
<rect x="321.03" y="306.5" width="2.91" height="1.5" fill="#ff6347"/>
<rect x="321.03" y="306.08" width="2.91" height="0.42" fill="#0000ff"/>
<rect x="324.67" y="306.5" width="2.91" height="3.11" fill="#ff00ff"/>
<rect x="324.67" y="306.5" width="2.91" height="1.5" fill="#ff6347"/>
<rect x="324.67" y="306.08" width="2.91" height="0.42" fill="#0000ff"/>
<rect x="328.31" y="306.5" width="2.91" height="2.83" fill="#ff00ff"/>
<rect x="328.31" y="306.5" width="2.91" height="1.5" fill="#ff6347"/>
<rect x="328.31" y="306.08" width="2.91" height="0.42" fill="#0000ff"/>
<rect x="331.94" y="306.5" width="2.91" height="3.01" fill="#ff00ff"/>
<rect x="331.94" y="306.5" width="2.91" height="1.5" fill="#ff6347"/>
<rect x="331.94" y="306.08" width="2.91" height="0.42" fill="#0000ff"/>
<rect x="335.59" y="306.5" width="2.91" height="2.9" fill="#ff00ff"/>
<rect x="335.59" y="306.5" width="2.91" height="1.5" fill="#ff6347"/>
<rect x="335.59" y="306.08" width="2.91" height="0.42" fill="#0000ff"/>
<rect x="339.23" y="306.5" width="2.91" height="2.87" fill="#ff00ff"/>
<rect x="339.23" y="306.5" width="2.91" height="1.5" fill="#ff6347"/>
<rect x="339.23" y="306.08" width="2.91" height="0.42" fill="#0000ff"/>
<rect x="342.87" y="306.5" width="2.91" height="3.07" fill="#ff00ff"/>
<rect x="342.87" y="306.5" width="2.91" height="1.5" fill="#ff6347"/>
<rect x="342.87" y="306.08" width="2.91" height="0.42" fill="#0000ff"/>
<rect x="346.5" y="306.5" width="2.91" height="3.07" fill="#ff00ff"/>
<rect x="346.5" y="306.5" width="2.91" height="1.5" fill="#ff6347"/>
<rect x="346.5" y="306.08" width="2.91" height="0.42" fill="#0000ff"/>
<rect x="350.15" y="306.5" width="2.91" height="3.34" fill="#ff00ff"/>
<rect x="350.15" y="306.5" width="2.91" height="1.5" fill="#ff6347"/>
<rect x="350.15" y="306.08" width="2.91" height="0.42" fill="#0000ff"/>
<rect x="353.79" y="306.5" width="2.91" height="3.15" fill="#ff00ff"/>
<rect x="353.79" y="306.5" width="2.91" height="1.5" fill="#ff6347"/>
<rect x="353.79" y="306.08" width="2.91" height="0.42" fill="#0000ff"/>
<rect x="357.43" y="306.5" width="2.91" height="3.36" fill="#ff00ff"/>
<rect x="357.43" y="306.5" width="2.91" height="1.5" fill="#ff6347"/>
<rect x="357.43" y="306.08" width="2.91" height="0.42" fill="#0000ff"/>
<rect x="361.06" y="306.5" width="2.91" height="3.3" fill="#ff00ff"/>
<rect x="361.06" y="306.5" width="2.91" height="1.5" fill="#ff6347"/>
<rect x="361.06" y="306.08" width="2.91" height="0.42" fill="#0000ff"/>
<rect x="364.71" y="306.5" width="2.91" height="3.41" fill="#ff00ff"/>
<rect x="364.71" y="306.5" width="2.91" height="1.5" fill="#ff6347"/>
<rect x="364.71" y="306.08" width="2.91" height="0.42" fill="#0000ff"/>
<rect x="368.35" y="306.5" width="2.91" height="3.14" fill="#ff00ff"/>
<rect x="368.35" y="306.5" width="2.91" height="1.5" fill="#ff6347"/>
<rect x="368.35" y="306.08" width="2.91" height="0.42" fill="#0000ff"/>
<rect x="371.99" y="306.5" width="2.91" height="2.72" fill="#ff00ff"/>
<rect x="371.99" y="306.5" width="2.91" height="1.5" fill="#ff6347"/>
<rect x="371.99" y="306.08" width="2.91" height="0.42" fill="#0000ff"/>
<rect x="375.62" y="306.5" width="2.91" height="3.3" fill="#ff00ff"/>
<rect x="375.62" y="306.5" width="2.91" height="1.5" fill="#ff6347"/>
<rect x="375.62" y="306.08" width="2.91" height="0.42" fill="#0000ff"/>
<rect x="379.27" y="306.5" width="2.91" height="3.39" fill="#ff00ff"/>
<rect x="379.27" y="306.5" width="2.91" height="1.5" fill="#ff6347"/>
<rect x="379.27" y="305.38" width="2.91" height="1.12" fill="#00ffff"/>
<rect x="379.27" y="306.08" width="2.91" height="0.42" fill="#0000ff"/>
<rect x="382.91" y="303.03" width="2.91" height="3.47" fill="#00ffff"/>
<rect x="382.91" y="306.5" width="2.91" height="3.34" fill="#ff00ff"/>
<rect x="382.91" y="306.5" width="2.91" height="1.5" fill="#ff6347"/>
<rect x="382.91" y="306.08" width="2.91" height="0.42" fill="#0000ff"/>
<rect x="386.55" y="301.34" width="2.91" height="5.16" fill="#00ffff"/>
<rect x="386.55" y="306.5" width="2.91" height="1.03" fill="#ff0000"/>
<rect x="390.19" y="300.92" width="2.91" height="5.58" fill="#00ffff"/>
<rect x="390.19" y="306.5" width="2.91" height="1.03" fill="#ff0000"/>
<rect x="393.82" y="300.41" width="2.91" height="6.09" fill="#00ffff"/>
<rect x="393.82" y="306.5" width="2.91" height="1.03" fill="#ff0000"/>
<rect x="397.47" y="299.47" width="2.91" height="7.03" fill="#00ffff"/>
<rect x="397.47" y="306.5" width="2.91" height="1.17" fill="#ff00ff"/>
<rect x="401.11" y="306.5" width="2.91" height="0.43" fill="#ff0000"/>
<rect x="404.75" y="306.5" width="2.91" height="0.47" fill="#ff0000"/>
<rect x="408.38" y="306.5" width="2.91" height="0.43" fill="#ff0000"/>
<rect x="412.03" y="306.5" width="2.91" height="0.56" fill="#ff0000"/>
<rect x="415.67" y="306.5" width="2.91" height="0.56" fill="#ff0000"/>
<rect x="419.31" y="306.5" width="2.91" height="0.55" fill="#ff0000"/>
<rect x="422.94" y="306.5" width="2.91" height="0.54" fill="#ff0000"/>
<rect x="426.59" y="306.5" width="2.91" height="0.74" fill="#ff0000"/>
<rect x="430.23" y="306.5" width="2.91" height="0.82" fill="#ff0000"/>
<rect x="433.87" y="306.5" width="2.91" height="0.67" fill="#ff0000"/>
<rect x="437.5" y="306.5" width="2.91" height="0.88" fill="#ff0000"/>
<rect x="437.5" y="306.06" width="2.91" height="0.44" fill="#2e8b57"/>
<rect x="441.15" y="306.5" width="2.91" height="0.84" fill="#ff0000"/>
<rect x="441.15" y="306.05" width="2.91" height="0.45" fill="#2e8b57"/>
<rect x="444.79" y="306.5" width="2.91" height="0.81" fill="#ff0000"/>
<rect x="444.79" y="306.03" width="2.91" height="0.47" fill="#2e8b57"/>
<rect x="448.43" y="306.5" width="2.91" height="0.9" fill="#ff0000"/>
<rect x="448.43" y="306.02" width="2.91" height="0.48" fill="#2e8b57"/>
<rect x="452.06" y="306.5" width="2.91" height="1.09" fill="#ff0000"/>
<rect x="452.06" y="306" width="2.91" height="0.5" fill="#2e8b57"/>
<rect x="455.71" y="306.5" width="2.91" height="1.18" fill="#ff0000"/>
<rect x="455.71" y="305.99" width="2.91" height="0.51" fill="#2e8b57"/>
<rect x="459.35" y="306.5" width="2.91" height="0.97" fill="#ff0000"/>
<rect x="459.35" y="305.97" width="2.91" height="0.53" fill="#2e8b57"/>
<rect x="462.99" y="306.5" width="2.91" height="1.21" fill="#ff0000"/>
<rect x="462.99" y="305.96" width="2.91" height="0.54" fill="#2e8b57"/>
<rect x="466.62" y="306.5" width="2.91" height="1.06" fill="#ff0000"/>
<rect x="466.62" y="305.94" width="2.91" height="0.56" fill="#2e8b57"/>
<rect x="470.27" y="306.5" width="2.91" height="1.37" fill="#ff0000"/>
<rect x="470.27" y="305.93" width="2.91" height="0.57" fill="#2e8b57"/>
<rect x="473.91" y="306.5" width="2.91" height="1.28" fill="#ff0000"/>
<rect x="473.91" y="305.91" width="2.91" height="0.59" fill="#2e8b57"/>
<rect x="477.55" y="306.5" width="2.91" height="1.56" fill="#ff0000"/>
<rect x="477.55" y="305.9" width="2.91" height="0.6" fill="#2e8b57"/>
<rect x="481.19" y="306.5" width="2.91" height="1.67" fill="#ff0000"/>
<rect x="481.19" y="305.88" width="2.91" height="0.62" fill="#2e8b57"/>
<rect x="484.83" y="306.5" width="2.91" height="1.52" fill="#ff0000"/>
<rect x="484.83" y="305.87" width="2.91" height="0.63" fill="#2e8b57"/>
<rect x="488.47" y="306.5" width="2.91" height="1.82" fill="#ff0000"/>
<rect x="488.47" y="305.85" width="2.91" height="0.65" fill="#2e8b57"/>
<rect x="492.11" y="306.5" width="2.91" height="1.55" fill="#ff0000"/>
<rect x="492.11" y="305.84" width="2.91" height="0.66" fill="#2e8b57"/>
<rect x="495.75" y="306.5" width="2.91" height="1.48" fill="#ff0000"/>
<rect x="495.75" y="305.82" width="2.91" height="0.68" fill="#2e8b57"/>
<rect x="499.39" y="306.5" width="2.91" height="1.82" fill="#ff0000"/>
<rect x="499.39" y="305.81" width="2.91" height="0.69" fill="#2e8b57"/>
<rect x="503.03" y="306.5" width="2.91" height="1.57" fill="#ff0000"/>
<rect x="503.03" y="305.79" width="2.91" height="0.71" fill="#2e8b57"/>
<rect x="506.67" y="306.5" width="2.91" height="1.72" fill="#ff0000"/>
<rect x="506.67" y="305.78" width="2.91" height="0.72" fill="#2e8b57"/>
<rect x="510.31" y="306.5" width="2.91" height="1.9" fill="#ff0000"/>
<rect x="510.31" y="305.76" width="2.91" height="0.74" fill="#2e8b57"/>
<rect x="513.94" y="306.5" width="2.91" height="2.08" fill="#ff0000"/>
<rect x="513.94" y="305.75" width="2.91" height="0.75" fill="#2e8b57"/>
<rect x="517.59" y="306.5" width="2.91" height="1.87" fill="#ff0000"/>
<rect x="517.59" y="305.73" width="2.91" height="0.77" fill="#2e8b57"/>
<rect x="521.23" y="306.5" width="2.91" height="1.85" fill="#ff0000"/>
<rect x="521.23" y="305.72" width="2.91" height="0.78" fill="#2e8b57"/>
<rect x="524.87" y="306.5" width="2.91" height="2.45" fill="#ff0000"/>
<rect x="524.87" y="305.7" width="2.91" height="0.8" fill="#2e8b57"/>
<rect x="528.5" y="306.5" width="2.91" height="2.15" fill="#ff0000"/>
<rect x="528.5" y="305.69" width="2.91" height="0.81" fill="#2e8b57"/>
<rect x="532.14" y="306.5" width="2.91" height="2.67" fill="#ff0000"/>
<rect x="532.14" y="305.67" width="2.91" height="0.83" fill="#2e8b57"/>
<rect x="535.78" y="306.5" width="2.91" height="2.7" fill="#ff0000"/>
<rect x="535.78" y="305.66" width="2.91" height="0.84" fill="#2e8b57"/>
<rect x="539.42" y="306.5" width="2.91" height="2.39" fill="#ff0000"/>
<rect x="539.42" y="305.64" width="2.91" height="0.86" fill="#2e8b57"/>
<rect x="543.06" y="306.5" width="2.91" height="2.51" fill="#ff0000"/>
<rect x="543.06" y="305.63" width="2.91" height="0.87" fill="#2e8b57"/>
<rect x="546.71" y="306.5" width="2.91" height="2.63" fill="#ff0000"/>
<rect x="546.71" y="305.61" width="2.91" height="0.89" fill="#2e8b57"/>
<rect x="550.35" y="306.5" width="2.91" height="2.8" fill="#ff0000"/>
<rect x="550.35" y="305.6" width="2.91" height="0.9" fill="#2e8b57"/>
<rect x="553.99" y="306.5" width="2.91" height="2.83" fill="#ff0000"/>
<rect x="553.99" y="305.58" width="2.91" height="0.92" fill="#2e8b57"/>
<rect x="557.62" y="306.5" width="2.91" height="2.87" fill="#ff0000"/>
<rect x="557.62" y="305.57" width="2.91" height="0.93" fill="#2e8b57"/>
<rect x="561.26" y="306.5" width="2.91" height="2.99" fill="#ff0000"/>
<rect x="561.26" y="305.55" width="2.91" height="0.95" fill="#2e8b57"/>
<rect x="564.9" y="306.5" width="2.91" height="3.35" fill="#ff0000"/>
<rect x="564.9" y="305.54" width="2.91" height="0.96" fill="#2e8b57"/>
<rect x="568.55" y="306.5" width="2.91" height="3.04" fill="#ff0000"/>
<rect x="568.55" y="305.52" width="2.91" height="0.98" fill="#2e8b57"/>
<rect x="572.19" y="306.5" width="2.91" height="3.04" fill="#ff0000"/>
<rect x="572.19" y="305.51" width="2.91" height="0.99" fill="#2e8b57"/>
<rect x="575.83" y="306.5" width="2.91" height="3.38" fill="#ff0000"/>
<rect x="575.83" y="305.49" width="2.91" height="1.01" fill="#2e8b57"/>
<rect x="579.47" y="306.5" width="2.91" height="2.99" fill="#ff0000"/>
<rect x="579.47" y="305.48" width="2.91" height="1.02" fill="#2e8b57"/>
<rect x="583.11" y="306.5" width="2.91" height="3.12" fill="#ff0000"/>
<rect x="583.11" y="305.46" width="2.91" height="1.04" fill="#2e8b57"/>
<rect x="586.75" y="306.5" width="2.91" height="3.88" fill="#ff0000"/>
<rect x="586.75" y="305.45" width="2.91" height="1.05" fill="#2e8b57"/>
<rect x="590.38" y="306.5" width="2.91" height="3.49" fill="#ff0000"/>
<rect x="590.38" y="305.43" width="2.91" height="1.07" fill="#2e8b57"/>
<rect x="594.02" y="306.5" width="2.91" height="3.59" fill="#ff0000"/>
<rect x="594.02" y="305.42" width="2.91" height="1.08" fill="#2e8b57"/>
<rect x="597.67" y="306.5" width="2.91" height="3.08" fill="#ff0000"/>
<rect x="597.67" y="305.4" width="2.91" height="1.1" fill="#2e8b57"/>
<rect x="601.31" y="306.5" width="2.91" height="3.59" fill="#ff0000"/>
<rect x="601.31" y="305.39" width="2.91" height="1.11" fill="#2e8b57"/>
<rect x="604.95" y="306.5" width="2.91" height="3.85" fill="#ff0000"/>
<rect x="604.95" y="305.37" width="2.91" height="1.13" fill="#2e8b57"/>
<rect x="608.59" y="306.5" width="2.91" height="3.28" fill="#ff0000"/>
<rect x="608.59" y="305.36" width="2.91" height="1.14" fill="#2e8b57"/>
<rect x="612.23" y="306.5" width="2.91" height="4.04" fill="#ff0000"/>
<rect x="612.23" y="305.34" width="2.91" height="1.16" fill="#2e8b57"/>
<rect x="615.87" y="306.5" width="2.91" height="4.14" fill="#ff0000"/>
<rect x="615.87" y="305.33" width="2.91" height="1.17" fill="#2e8b57"/>
</g>
<g clip-path="url(#cp3)" shape-rendering="auto">
<line x1="42.05" x2="619" y1="412.6" y2="412.6" stroke="#ff0000" stroke-opacity="0.55" stroke-width="0.8" stroke-dasharray="3.2,1.6"/>
<line x1="42.05" x2="55.5" y1="412.6" y2="412.6" stroke="#ff0000" stroke-opacity="0.8" stroke-width="1" stroke-dasharray="3.2,1.6"/>
<rect x="44.39" y="412.13" width="2.91" height="0.47" fill="#2e8b57"/>
<rect x="48.03" y="412.01" width="2.91" height="0.59" fill="#2e8b57"/>
<rect x="51.67" y="409.08" width="2.91" height="3.52" fill="#ff00ff"/>
<rect x="51.67" y="412.6" width="2.91" height="3.52" fill="#0000ff"/>
<rect x="55.31" y="407.9" width="2.91" height="4.7" fill="#ff00ff"/>
<rect x="58.95" y="409.67" width="2.91" height="2.94" fill="#ff00ff"/>
<rect x="62.59" y="412.6" width="2.91" height="15.85" fill="#ff1493"/>
<rect x="62.59" y="411.43" width="2.91" height="1.17" fill="#2e8b57"/>
<rect x="66.23" y="412.6" width="2.91" height="15.85" fill="#ff1493"/>
<rect x="66.23" y="411.43" width="2.91" height="1.17" fill="#2e8b57"/>
<rect x="69.87" y="412.6" width="2.91" height="12.33" fill="#ff1493"/>
<rect x="69.87" y="408.49" width="2.91" height="4.11" fill="#ff00ff"/>
<rect x="73.51" y="412.6" width="2.91" height="14.68" fill="#ff1493"/>
<rect x="73.51" y="410.25" width="2.91" height="2.35" fill="#ff00ff"/>
<rect x="77.14" y="412.6" width="2.91" height="12.91" fill="#ff1493"/>
<rect x="77.14" y="410.84" width="2.91" height="1.76" fill="#ff6347"/>
<rect x="77.14" y="412.6" width="2.91" height="1.17" fill="#ff0000"/>
<rect x="80.79" y="412.6" width="2.91" height="11.15" fill="#ff1493"/>
<rect x="80.79" y="410.25" width="2.91" height="2.35" fill="#ff6347"/>
<rect x="80.79" y="412.6" width="2.91" height="1.17" fill="#ff0000"/>
<rect x="84.42" y="412.6" width="2.91" height="12.91" fill="#00ffff"/>
<rect x="84.42" y="412.6" width="2.91" height="9.39" fill="#ff1493"/>
<rect x="84.42" y="410.84" width="2.91" height="1.76" fill="#ff6347"/>
<rect x="84.42" y="412.6" width="2.91" height="1.17" fill="#ff0000"/>
<rect x="88.07" y="412.6" width="2.91" height="14.68" fill="#00ffff"/>
<rect x="88.07" y="412.6" width="2.91" height="8.22" fill="#ff1493"/>
<rect x="88.07" y="410.84" width="2.91" height="1.76" fill="#ff6347"/>
<rect x="88.07" y="412.6" width="2.91" height="1.17" fill="#ff0000"/>
<rect x="91.7" y="412.6" width="2.91" height="11.15" fill="#00ffff"/>
<rect x="91.7" y="412.6" width="2.91" height="9.98" fill="#ff1493"/>
<rect x="91.7" y="410.25" width="2.91" height="2.35" fill="#ff6347"/>
<rect x="91.7" y="412.6" width="2.91" height="1.17" fill="#ff0000"/>
<rect x="95.35" y="412.6" width="2.91" height="8.81" fill="#ff1493"/>
<rect x="95.35" y="409.67" width="2.91" height="2.94" fill="#ff6347"/>
<rect x="95.35" y="412.6" width="2.91" height="1.17" fill="#ff0000"/>
<rect x="98.98" y="412.6" width="2.91" height="9.39" fill="#ff1493"/>
<rect x="98.98" y="410.84" width="2.91" height="1.76" fill="#ff6347"/>
<rect x="98.98" y="412.6" width="2.91" height="1.17" fill="#ff0000"/>
<rect x="102.63" y="412.6" width="2.91" height="10.57" fill="#ff1493"/>
<rect x="102.63" y="410.25" width="2.91" height="2.35" fill="#ff6347"/>
<rect x="102.63" y="412.6" width="2.91" height="1.17" fill="#ff0000"/>
<rect x="106.27" y="412.6" width="2.91" height="12.33" fill="#00ffff"/>
<rect x="106.27" y="412.6" width="2.91" height="7.04" fill="#ff1493"/>
<rect x="106.27" y="409.67" width="2.91" height="2.94" fill="#ff6347"/>
<rect x="106.27" y="412.6" width="2.91" height="1.17" fill="#ff0000"/>
<rect x="109.91" y="412.6" width="2.91" height="8.81" fill="#ff1493"/>
<rect x="109.91" y="410.25" width="2.91" height="2.35" fill="#ff6347"/>
<rect x="109.91" y="412.6" width="2.91" height="1.17" fill="#ff0000"/>
<rect x="113.55" y="412.6" width="2.91" height="8.22" fill="#ff1493"/>
<rect x="113.55" y="410.84" width="2.91" height="1.76" fill="#ff6347"/>
<rect x="113.55" y="412.6" width="2.91" height="1.17" fill="#ff0000"/>
<rect x="117.19" y="412.6" width="2.91" height="12.33" fill="#00ffff"/>
<rect x="117.19" y="412.6" width="2.91" height="7.04" fill="#ff1493"/>
<rect x="117.19" y="410.25" width="2.91" height="2.35" fill="#ff6347"/>
<rect x="117.19" y="412.6" width="2.91" height="1.17" fill="#ff0000"/>
<rect x="120.83" y="412.6" width="2.91" height="8.81" fill="#ff1493"/>
<rect x="120.83" y="409.08" width="2.91" height="3.52" fill="#ff00ff"/>
<rect x="120.83" y="412.6" width="2.91" height="1.17" fill="#ff0000"/>
<rect x="124.47" y="412.6" width="2.91" height="7.63" fill="#ff1493"/>
<rect x="124.47" y="410.25" width="2.91" height="2.35" fill="#ff6347"/>
<rect x="124.47" y="412.6" width="2.91" height="1.17" fill="#ff0000"/>
<rect x="128.1" y="412.6" width="2.91" height="9.98" fill="#00ffff"/>
<rect x="128.1" y="412.6" width="2.91" height="5.87" fill="#ff1493"/>
<rect x="128.1" y="409.67" width="2.91" height="2.94" fill="#ff6347"/>
<rect x="128.1" y="412.6" width="2.91" height="1.17" fill="#ff0000"/>
<rect x="131.74" y="412.6" width="2.91" height="7.63" fill="#ff1493"/>
<rect x="131.74" y="410.84" width="2.91" height="1.76" fill="#ff6347"/>
<rect x="131.74" y="412.6" width="2.91" height="1.17" fill="#ff0000"/>
<rect x="135.38" y="412.6" width="2.91" height="6.46" fill="#ff1493"/>
<rect x="135.38" y="410.25" width="2.91" height="2.35" fill="#ff6347"/>
<rect x="135.38" y="412.6" width="2.91" height="1.17" fill="#ff0000"/>
<rect x="139.03" y="412.6" width="2.91" height="9.39" fill="#00ffff"/>
<rect x="139.03" y="412.6" width="2.91" height="5.28" fill="#ff1493"/>
<rect x="139.03" y="410.25" width="2.91" height="2.35" fill="#ff6347"/>
<rect x="139.03" y="412.6" width="2.91" height="1.17" fill="#ff0000"/>
<rect x="142.66" y="412.6" width="2.91" height="7.63" fill="#00ffff"/>
<rect x="142.66" y="412.6" width="2.91" height="5.87" fill="#ff1493"/>
<rect x="142.66" y="409.67" width="2.91" height="2.94" fill="#ff6347"/>
<rect x="142.66" y="412.6" width="2.91" height="1.17" fill="#ff0000"/>
<rect x="146.3" y="412.6" width="2.91" height="14.09" fill="#00ffff"/>
<rect x="146.3" y="412.6" width="2.91" height="5.28" fill="#ff1493"/>
<rect x="146.3" y="409.67" width="2.91" height="2.94" fill="#00ffff"/>
<rect x="146.3" y="412.6" width="2.91" height="1.17" fill="#ff0000"/>
<rect x="149.94" y="412.6" width="2.91" height="7.63" fill="#ff1493"/>
<rect x="149.94" y="407.9" width="2.91" height="4.7" fill="#00ffff"/>
<rect x="149.94" y="412.6" width="2.91" height="1.17" fill="#ff0000"/>
<rect x="153.59" y="412.6" width="2.91" height="11.15" fill="#00ffff"/>
<rect x="153.59" y="412.6" width="2.91" height="6.46" fill="#ff1493"/>
<rect x="153.59" y="410.84" width="2.91" height="1.76" fill="#ff6347"/>
<rect x="157.22" y="412.6" width="2.91" height="7.04" fill="#ff1493"/>
<rect x="157.22" y="410.84" width="2.91" height="1.76" fill="#ff6347"/>
<rect x="160.86" y="412.6" width="2.91" height="6.46" fill="#ff1493"/>
<rect x="160.86" y="410.84" width="2.91" height="1.76" fill="#ff6347"/>
<rect x="164.5" y="412.6" width="2.91" height="5.28" fill="#ff1493"/>
<rect x="164.5" y="410.84" width="2.91" height="1.76" fill="#ff6347"/>
<rect x="168.15" y="412.6" width="2.91" height="6.46" fill="#ff1493"/>
<rect x="168.15" y="410.84" width="2.91" height="1.76" fill="#ff00ff"/>
<rect x="171.78" y="412.6" width="2.91" height="5.28" fill="#ff1493"/>
<rect x="171.78" y="410.84" width="2.91" height="1.76" fill="#ff6347"/>
<rect x="175.42" y="412.6" width="2.91" height="3.52" fill="#ff1493"/>
<rect x="175.42" y="410.84" width="2.91" height="1.76" fill="#ff6347"/>
<rect x="179.06" y="412.6" width="2.91" height="2.94" fill="#ff1493"/>
<rect x="179.06" y="410.84" width="2.91" height="1.76" fill="#ff6347"/>
<rect x="182.71" y="410.84" width="2.91" height="1.76" fill="#ff6347"/>
<rect x="182.71" y="412.6" width="2.91" height="1.76" fill="#ff00ff"/>
<rect x="186.34" y="412.6" width="2.91" height="1.76" fill="#ff6347"/>
<rect x="186.34" y="411.43" width="2.91" height="1.17" fill="#ff6347"/>
<rect x="189.98" y="412.6" width="2.91" height="1.76" fill="#ff00ff"/>
<rect x="189.98" y="411.43" width="2.91" height="1.17" fill="#ff6347"/>
<rect x="193.62" y="410.84" width="2.91" height="1.76" fill="#ff6347"/>
<rect x="193.62" y="412.6" width="2.91" height="1.17" fill="#ff6347"/>
<rect x="197.27" y="412.6" width="2.91" height="1.76" fill="#ff6347"/>
<rect x="197.27" y="411.43" width="2.91" height="1.17" fill="#ff00ff"/>
<rect x="200.91" y="410.84" width="2.91" height="1.76" fill="#ff6347"/>
<rect x="200.91" y="412.6" width="2.91" height="1.76" fill="#ff00ff"/>
<rect x="204.54" y="412.6" width="2.91" height="1.76" fill="#ff6347"/>
<rect x="204.54" y="411.43" width="2.91" height="1.17" fill="#ff6347"/>
<rect x="208.18" y="412.6" width="2.91" height="3.52" fill="#ff1493"/>
<rect x="208.18" y="411.43" width="2.91" height="1.17" fill="#ff6347"/>
<rect x="211.83" y="412.6" width="2.91" height="2.35" fill="#ff00ff"/>
<rect x="211.83" y="411.43" width="2.91" height="1.17" fill="#0000ff"/>
<rect x="215.47" y="412.6" width="2.91" height="1.76" fill="#ff6347"/>
<rect x="215.47" y="411.43" width="2.91" height="1.17" fill="#ff6347"/>
<rect x="219.1" y="412.6" width="2.91" height="3.52" fill="#ff1493"/>
<rect x="219.1" y="411.43" width="2.91" height="1.17" fill="#0000ff"/>
<rect x="222.74" y="410.25" width="2.91" height="2.35" fill="#ff1493"/>
<rect x="222.74" y="412.6" width="2.91" height="1.76" fill="#ff6347"/>
<rect x="226.39" y="412.6" width="2.91" height="1.76" fill="#ff6347"/>
<rect x="226.39" y="411.43" width="2.91" height="1.17" fill="#0000ff"/>
<rect x="230.03" y="410.25" width="2.91" height="2.35" fill="#00ffff"/>
<rect x="230.03" y="412.6" width="2.91" height="1.76" fill="#ff00ff"/>
<rect x="233.66" y="412.6" width="2.91" height="4.11" fill="#ff1493"/>
<rect x="233.66" y="411.43" width="2.91" height="1.17" fill="#0000ff"/>
<rect x="237.3" y="412.6" width="2.91" height="1.76" fill="#ff6347"/>
<rect x="237.3" y="411.43" width="2.91" height="1.17" fill="#0000ff"/>
<rect x="240.95" y="410.84" width="2.91" height="1.76" fill="#0000ff"/>
<rect x="240.95" y="412.6" width="2.91" height="1.76" fill="#0000ff"/>
<rect x="244.59" y="412.6" width="2.91" height="4.7" fill="#00ffff"/>
<rect x="244.59" y="409.08" width="2.91" height="3.52" fill="#ff1493"/>
<rect x="248.22" y="404.97" width="2.91" height="7.63" fill="#00ffff"/>
<rect x="248.22" y="412.6" width="2.91" height="2.94" fill="#ff1493"/>
<rect x="251.86" y="408.49" width="2.91" height="4.11" fill="#ff1493"/>
<rect x="251.86" y="412.6" width="2.91" height="2.94" fill="#ff1493"/>
<rect x="255.51" y="412.6" width="2.91" height="5.28" fill="#ff1493"/>
<rect x="255.51" y="410.84" width="2.91" height="1.76" fill="#00ffff"/>
<rect x="259.15" y="409.08" width="2.91" height="3.52" fill="#00ffff"/>
<rect x="259.15" y="412.6" width="2.91" height="2.35" fill="#ff1493"/>
<rect x="262.79" y="412.6" width="2.91" height="2.35" fill="#ff1493"/>
<rect x="262.79" y="410.84" width="2.91" height="1.76" fill="#0000ff"/>
<rect x="266.43" y="412.6" width="2.91" height="2.35" fill="#ff6347"/>
<rect x="266.43" y="410.84" width="2.91" height="1.76" fill="#ff1493"/>
<rect x="270.07" y="412.6" width="2.91" height="2.35" fill="#ff00ff"/>
<rect x="270.07" y="410.84" width="2.91" height="1.76" fill="#0000ff"/>
<rect x="273.71" y="410.25" width="2.91" height="2.35" fill="#00ffff"/>
<rect x="273.71" y="412.6" width="2.91" height="1.76" fill="#ff6347"/>
<rect x="277.35" y="412.6" width="2.91" height="2.94" fill="#ff1493"/>
<rect x="277.35" y="410.84" width="2.91" height="1.76" fill="#0000ff"/>
<rect x="280.99" y="409.67" width="2.91" height="2.94" fill="#00ffff"/>
<rect x="280.99" y="412.6" width="2.91" height="2.35" fill="#ff1493"/>
<rect x="284.62" y="412.6" width="2.91" height="2.35" fill="#ff6347"/>
<rect x="284.62" y="410.84" width="2.91" height="1.76" fill="#0000ff"/>
<rect x="288.27" y="412.6" width="2.91" height="4.7" fill="#ff6347"/>
<rect x="288.27" y="410.84" width="2.91" height="1.76" fill="#0000ff"/>
<rect x="291.91" y="409.67" width="2.91" height="2.94" fill="#00ffff"/>
<rect x="291.91" y="412.6" width="2.91" height="1.76" fill="#0000ff"/>
<rect x="295.55" y="412.6" width="2.91" height="2.94" fill="#ff1493"/>
<rect x="295.55" y="410.84" width="2.91" height="1.76" fill="#0000ff"/>
<rect x="299.19" y="412.6" width="2.91" height="5.28" fill="#ff00ff"/>
<rect x="299.19" y="410.84" width="2.91" height="1.76" fill="#0000ff"/>
<rect x="302.82" y="408.49" width="2.91" height="4.11" fill="#00ffff"/>
<rect x="302.82" y="412.6" width="2.91" height="1.76" fill="#0000ff"/>
<rect x="306.47" y="412.6" width="2.91" height="2.35" fill="#ff1493"/>
<rect x="306.47" y="410.84" width="2.91" height="1.76" fill="#0000ff"/>
<rect x="310.11" y="412.6" width="2.91" height="5.28" fill="#ff6347"/>
<rect x="310.11" y="410.84" width="2.91" height="1.76" fill="#0000ff"/>
<rect x="313.75" y="409.08" width="2.91" height="3.52" fill="#00ffff"/>
<rect x="313.75" y="412.6" width="2.91" height="1.76" fill="#0000ff"/>
<rect x="317.38" y="412.6" width="2.91" height="4.7" fill="#ff00ff"/>
<rect x="317.38" y="410.84" width="2.91" height="1.76" fill="#0000ff"/>
<rect x="321.03" y="412.6" width="2.91" height="5.28" fill="#ff6347"/>
<rect x="321.03" y="410.84" width="2.91" height="1.76" fill="#0000ff"/>
<rect x="324.67" y="410.84" width="2.91" height="1.76" fill="#0000ff"/>
<rect x="324.67" y="412.6" width="2.91" height="1.76" fill="#ff1493"/>
<rect x="328.31" y="412.6" width="2.91" height="5.28" fill="#ff00ff"/>
<rect x="328.31" y="409.67" width="2.91" height="2.94" fill="#00ffff"/>
<rect x="331.94" y="400.86" width="2.91" height="11.74" fill="#00ffff"/>
<rect x="331.94" y="412.6" width="2.91" height="4.7" fill="#ff1493"/>
<rect x="335.59" y="404.38" width="2.91" height="8.22" fill="#00ffff"/>
<rect x="335.59" y="412.6" width="2.91" height="2.35" fill="#ff1493"/>
<rect x="335.59" y="410.84" width="2.91" height="1.76" fill="#0000ff"/>
<rect x="339.23" y="406.14" width="2.91" height="6.46" fill="#00ffff"/>
<rect x="339.23" y="412.6" width="2.91" height="5.28" fill="#ff00ff"/>
<rect x="339.23" y="410.84" width="2.91" height="1.76" fill="#0000ff"/>
<rect x="342.87" y="408.49" width="2.91" height="4.11" fill="#00ffff"/>
<rect x="342.87" y="412.6" width="2.91" height="2.35" fill="#ff6347"/>
<rect x="342.87" y="410.84" width="2.91" height="1.76" fill="#0000ff"/>
<rect x="346.5" y="412.6" width="2.91" height="5.28" fill="#ff6347"/>
<rect x="346.5" y="410.84" width="2.91" height="1.76" fill="#0000ff"/>
<rect x="350.15" y="409.67" width="2.91" height="2.94" fill="#00ffff"/>
<rect x="350.15" y="412.6" width="2.91" height="2.94" fill="#ff1493"/>
<rect x="350.15" y="410.84" width="2.91" height="1.76" fill="#0000ff"/>
<rect x="353.79" y="412.6" width="2.91" height="4.11" fill="#ff6347"/>
<rect x="353.79" y="410.84" width="2.91" height="1.76" fill="#0000ff"/>
<rect x="357.43" y="412.6" width="2.91" height="4.7" fill="#ff00ff"/>
<rect x="357.43" y="410.84" width="2.91" height="1.76" fill="#0000ff"/>
<rect x="361.06" y="412.6" width="2.91" height="4.7" fill="#ff6347"/>
<rect x="361.06" y="410.84" width="2.91" height="1.76" fill="#0000ff"/>
<rect x="364.71" y="410.25" width="2.91" height="2.35" fill="#0000ff"/>
<rect x="364.71" y="412.6" width="2.91" height="2.35" fill="#ff6347"/>
<rect x="368.35" y="412.6" width="2.91" height="3.52" fill="#ff6347"/>
<rect x="368.35" y="410.25" width="2.91" height="2.35" fill="#0000ff"/>
<rect x="371.99" y="412.6" width="2.91" height="3.52" fill="#ff1493"/>
<rect x="371.99" y="410.25" width="2.91" height="2.35" fill="#0000ff"/>
<rect x="375.62" y="409.67" width="2.91" height="2.94" fill="#ff1493"/>
<rect x="375.62" y="410.25" width="2.91" height="2.35" fill="#0000ff"/>
<rect x="375.62" y="412.6" width="2.91" height="1.76" fill="#ff6347"/>
<rect x="379.27" y="409.08" width="2.91" height="3.52" fill="#ff1493"/>
<rect x="379.27" y="410.25" width="2.91" height="2.35" fill="#0000ff"/>
<rect x="379.27" y="412.6" width="2.91" height="1.76" fill="#ff6347"/>
<rect x="382.91" y="407.9" width="2.91" height="4.7" fill="#ff1493"/>
<rect x="382.91" y="410.25" width="2.91" height="2.35" fill="#0000ff"/>
<rect x="382.91" y="412.6" width="2.91" height="1.17" fill="#ff6347"/>
<rect x="386.55" y="406.73" width="2.91" height="5.87" fill="#ff1493"/>
<rect x="386.55" y="412.6" width="2.91" height="2.35" fill="#00ffff"/>
<rect x="390.19" y="405.56" width="2.91" height="7.04" fill="#ff1493"/>
<rect x="390.19" y="412.6" width="2.91" height="4.11" fill="#00ffff"/>
<rect x="393.82" y="403.8" width="2.91" height="8.81" fill="#ff1493"/>
<rect x="393.82" y="412.6" width="2.91" height="6.46" fill="#00ffff"/>
<rect x="397.47" y="402.62" width="2.91" height="9.98" fill="#ff1493"/>
<rect x="397.47" y="412.6" width="2.91" height="8.22" fill="#00ffff"/>
<rect x="408.38" y="412.6" width="2.91" height="0.88" fill="#ff0000"/>
<rect x="419.31" y="412.6" width="2.91" height="0.88" fill="#ff0000"/>
<rect x="430.23" y="412.6" width="2.91" height="0.88" fill="#ff0000"/>
<rect x="441.15" y="412.6" width="2.91" height="0.88" fill="#ff0000"/>
<rect x="444.79" y="412.52" width="2.91" height="0.08" fill="#2e8b57"/>
<rect x="448.43" y="412.44" width="2.91" height="0.16" fill="#2e8b57"/>
<rect x="452.06" y="412.6" width="2.91" height="0.88" fill="#ff0000"/>
<rect x="452.06" y="412.34" width="2.91" height="0.26" fill="#2e8b57"/>
<rect x="455.71" y="412.27" width="2.91" height="0.33" fill="#2e8b57"/>
<rect x="459.35" y="412.14" width="2.91" height="0.46" fill="#2e8b57"/>
<rect x="462.99" y="412.6" width="2.91" height="0.88" fill="#ff0000"/>
<rect x="462.99" y="412.04" width="2.91" height="0.56" fill="#2e8b57"/>
<rect x="466.62" y="412.03" width="2.91" height="0.57" fill="#2e8b57"/>
<rect x="470.27" y="411.93" width="2.91" height="0.67" fill="#2e8b57"/>
<rect x="473.91" y="412.6" width="2.91" height="0.88" fill="#ff0000"/>
<rect x="473.91" y="411.73" width="2.91" height="0.87" fill="#2e8b57"/>
<rect x="477.55" y="411.57" width="2.91" height="1.03" fill="#2e8b57"/>
<rect x="481.19" y="411.61" width="2.91" height="0.99" fill="#2e8b57"/>
<rect x="484.83" y="411.46" width="2.91" height="1.14" fill="#2e8b57"/>
<rect x="484.83" y="412.6" width="2.91" height="0.88" fill="#ff0000"/>
<rect x="488.47" y="411.32" width="2.91" height="1.28" fill="#2e8b57"/>
<rect x="492.11" y="411.29" width="2.91" height="1.31" fill="#2e8b57"/>
<rect x="495.75" y="411.17" width="2.91" height="1.43" fill="#2e8b57"/>
<rect x="495.75" y="412.6" width="2.91" height="0.88" fill="#ff0000"/>
<rect x="499.39" y="411.08" width="2.91" height="1.52" fill="#2e8b57"/>
<rect x="503.03" y="410.96" width="2.91" height="1.64" fill="#2e8b57"/>
<rect x="506.67" y="410.77" width="2.91" height="1.83" fill="#2e8b57"/>
<rect x="506.67" y="412.6" width="2.91" height="0.88" fill="#ff0000"/>
<rect x="510.31" y="410.77" width="2.91" height="1.83" fill="#2e8b57"/>
<rect x="513.94" y="410.63" width="2.91" height="1.97" fill="#2e8b57"/>
<rect x="517.59" y="410.36" width="2.91" height="2.24" fill="#2e8b57"/>
<rect x="517.59" y="412.6" width="2.91" height="0.88" fill="#ff0000"/>
<rect x="521.23" y="410.57" width="2.91" height="2.03" fill="#2e8b57"/>
<rect x="524.87" y="410.22" width="2.91" height="2.38" fill="#2e8b57"/>
<rect x="528.5" y="410.02" width="2.91" height="2.58" fill="#2e8b57"/>
<rect x="528.5" y="412.6" width="2.91" height="0.88" fill="#ff0000"/>
<rect x="532.14" y="410.12" width="2.91" height="2.48" fill="#2e8b57"/>
<rect x="535.78" y="410.06" width="2.91" height="2.54" fill="#2e8b57"/>
<rect x="539.42" y="409.62" width="2.91" height="2.98" fill="#2e8b57"/>
<rect x="539.42" y="412.6" width="2.91" height="0.88" fill="#ff0000"/>
<rect x="543.06" y="409.83" width="2.91" height="2.77" fill="#2e8b57"/>
<rect x="546.71" y="409.75" width="2.91" height="2.85" fill="#2e8b57"/>
<rect x="550.35" y="409.49" width="2.91" height="3.11" fill="#2e8b57"/>
<rect x="550.35" y="412.6" width="2.91" height="0.88" fill="#ff0000"/>
<rect x="553.99" y="409.2" width="2.91" height="3.4" fill="#2e8b57"/>
<rect x="557.62" y="409.49" width="2.91" height="3.11" fill="#2e8b57"/>
<rect x="557.62" y="412.6" width="2.91" height="0.88" fill="#ff0000"/>
<rect x="561.26" y="409.23" width="2.91" height="3.37" fill="#2e8b57"/>
<rect x="561.26" y="412.6" width="2.91" height="1.76" fill="#ff0000"/>
<rect x="564.9" y="409.1" width="2.91" height="3.5" fill="#2e8b57"/>
<rect x="564.9" y="412.6" width="2.91" height="1.76" fill="#ff0000"/>
<rect x="568.55" y="408.62" width="2.91" height="3.98" fill="#2e8b57"/>
<rect x="568.55" y="412.6" width="2.91" height="1.76" fill="#ff0000"/>
<rect x="572.19" y="408.8" width="2.91" height="3.8" fill="#2e8b57"/>
<rect x="572.19" y="412.6" width="2.91" height="1.76" fill="#ff0000"/>
<rect x="575.83" y="408.35" width="2.91" height="4.25" fill="#2e8b57"/>
<rect x="579.47" y="408.78" width="2.91" height="3.82" fill="#2e8b57"/>
<rect x="583.11" y="408.53" width="2.91" height="4.07" fill="#2e8b57"/>
<rect x="583.11" y="412.6" width="2.91" height="0.88" fill="#ff0000"/>
<rect x="586.75" y="408.15" width="2.91" height="4.45" fill="#2e8b57"/>
<rect x="590.38" y="407.82" width="2.91" height="4.78" fill="#2e8b57"/>
<rect x="594.02" y="408.08" width="2.91" height="4.52" fill="#2e8b57"/>
<rect x="594.02" y="412.6" width="2.91" height="0.88" fill="#ff0000"/>
<rect x="597.67" y="408.18" width="2.91" height="4.42" fill="#2e8b57"/>
<rect x="601.31" y="408.16" width="2.91" height="4.44" fill="#2e8b57"/>
<rect x="604.95" y="407.65" width="2.91" height="4.95" fill="#2e8b57"/>
<rect x="604.95" y="412.6" width="2.91" height="0.88" fill="#ff0000"/>
<rect x="608.59" y="407.87" width="2.91" height="4.73" fill="#2e8b57"/>
<rect x="612.23" y="407.12" width="2.91" height="5.48" fill="#2e8b57"/>
<rect x="615.87" y="406.96" width="2.91" height="5.64" fill="#2e8b57"/>
<rect x="615.87" y="412.6" width="2.91" height="0.88" fill="#ff0000"/>
</g>
<g clip-path="url(#cp4)" shape-rendering="auto">
<line x1="42.05" x2="619" y1="530.2" y2="530.2" stroke="#ff0000" stroke-opacity="0.55" stroke-width="0.8" stroke-dasharray="3.2,1.6"/>
<line x1="42.05" x2="55.5" y1="530.2" y2="530.2" stroke="#ff0000" stroke-opacity="0.8" stroke-width="1" stroke-dasharray="3.2,1.6"/>
<rect x="44.39" y="529.73" width="2.91" height="0.47" fill="#2e8b57"/>
<rect x="48.03" y="529.61" width="2.91" height="0.59" fill="#2e8b57"/>
<rect x="55.31" y="527.85" width="2.91" height="2.35" fill="#ff00ff"/>
<rect x="55.31" y="529.03" width="2.91" height="1.17" fill="#0000ff"/>
<rect x="58.95" y="529.03" width="2.91" height="1.17" fill="#ff00ff"/>
<rect x="62.59" y="530.2" width="2.91" height="32.87" fill="#00ffff"/>
<rect x="62.59" y="514.35" width="2.91" height="15.85" fill="#ff1493"/>
<rect x="62.59" y="530.2" width="2.91" height="1.76" fill="#2e8b57"/>
<rect x="66.23" y="530.2" width="2.91" height="34.05" fill="#00ffff"/>
<rect x="66.23" y="513.76" width="2.91" height="16.44" fill="#ff1493"/>
<rect x="66.23" y="530.2" width="2.91" height="1.76" fill="#2e8b57"/>
<rect x="69.87" y="530.2" width="2.91" height="36.98" fill="#00ffff"/>
<rect x="69.87" y="521.98" width="2.91" height="8.22" fill="#ff1493"/>
<rect x="69.87" y="530.2" width="2.91" height="1.76" fill="#2e8b57"/>
<rect x="73.51" y="530.2" width="2.91" height="28.18" fill="#00ffff"/>
<rect x="73.51" y="514.94" width="2.91" height="15.26" fill="#ff1493"/>
<rect x="73.51" y="530.2" width="2.91" height="1.76" fill="#2e8b57"/>
<rect x="77.14" y="530.2" width="2.91" height="27.59" fill="#00ffff"/>
<rect x="77.14" y="518.46" width="2.91" height="11.74" fill="#ff1493"/>
<rect x="77.14" y="530.2" width="2.91" height="1.76" fill="#2e8b57"/>
<rect x="80.79" y="530.2" width="2.91" height="29.35" fill="#00ffff"/>
<rect x="80.79" y="521.98" width="2.91" height="8.22" fill="#ff1493"/>
<rect x="80.79" y="530.2" width="2.91" height="1.76" fill="#2e8b57"/>
<rect x="84.42" y="530.2" width="2.91" height="31.7" fill="#00ffff"/>
<rect x="84.42" y="525.5" width="2.91" height="4.7" fill="#ff1493"/>
<rect x="84.42" y="530.2" width="2.91" height="1.76" fill="#2e8b57"/>
<rect x="88.07" y="530.2" width="2.91" height="32.87" fill="#00ffff"/>
<rect x="88.07" y="526.68" width="2.91" height="3.52" fill="#ff1493"/>
<rect x="88.07" y="530.2" width="2.91" height="1.76" fill="#2e8b57"/>
<rect x="91.7" y="530.2" width="2.91" height="31.11" fill="#00ffff"/>
<rect x="91.7" y="523.16" width="2.91" height="7.04" fill="#ff1493"/>
<rect x="91.7" y="530.2" width="2.91" height="1.76" fill="#2e8b57"/>
<rect x="95.35" y="530.2" width="2.91" height="25.24" fill="#00ffff"/>
<rect x="95.35" y="521.98" width="2.91" height="8.22" fill="#ff1493"/>
<rect x="95.35" y="530.2" width="2.91" height="1.76" fill="#2e8b57"/>
<rect x="98.98" y="530.2" width="2.91" height="25.24" fill="#00ffff"/>
<rect x="98.98" y="525.5" width="2.91" height="4.7" fill="#ff1493"/>
<rect x="98.98" y="530.2" width="2.91" height="1.76" fill="#2e8b57"/>
<rect x="102.63" y="530.2" width="2.91" height="21.13" fill="#00ffff"/>
<rect x="102.63" y="520.22" width="2.91" height="9.98" fill="#ff1493"/>
<rect x="102.63" y="530.2" width="2.91" height="1.76" fill="#2e8b57"/>
<rect x="106.27" y="530.2" width="2.91" height="27" fill="#00ffff"/>
<rect x="106.27" y="527.85" width="2.91" height="2.35" fill="#ff1493"/>
<rect x="106.27" y="530.2" width="2.91" height="1.76" fill="#2e8b57"/>
<rect x="109.91" y="530.2" width="2.91" height="22.89" fill="#00ffff"/>
<rect x="109.91" y="523.16" width="2.91" height="7.04" fill="#ff1493"/>
<rect x="109.91" y="530.2" width="2.91" height="1.76" fill="#2e8b57"/>
<rect x="113.55" y="530.2" width="2.91" height="24.65" fill="#00ffff"/>
<rect x="113.55" y="525.5" width="2.91" height="4.7" fill="#ff1493"/>
<rect x="113.55" y="530.2" width="2.91" height="1.76" fill="#2e8b57"/>
<rect x="117.19" y="530.2" width="2.91" height="27" fill="#00ffff"/>
<rect x="117.19" y="530.2" width="2.91" height="1.76" fill="#2e8b57"/>
<rect x="117.19" y="529.03" width="2.91" height="1.17" fill="#ff1493"/>
<rect x="120.83" y="530.2" width="2.91" height="16.44" fill="#00ffff"/>
<rect x="120.83" y="524.33" width="2.91" height="5.87" fill="#ff1493"/>
<rect x="120.83" y="530.2" width="2.91" height="1.76" fill="#2e8b57"/>
<rect x="124.47" y="530.2" width="2.91" height="18.78" fill="#00ffff"/>
<rect x="124.47" y="526.68" width="2.91" height="3.52" fill="#ff1493"/>
<rect x="124.47" y="530.2" width="2.91" height="1.76" fill="#2e8b57"/>
<rect x="128.1" y="530.2" width="2.91" height="20.54" fill="#00ffff"/>
<rect x="128.1" y="530.2" width="2.91" height="1.76" fill="#2e8b57"/>
<rect x="128.1" y="529.03" width="2.91" height="1.17" fill="#ff1493"/>
<rect x="131.74" y="530.2" width="2.91" height="15.26" fill="#00ffff"/>
<rect x="131.74" y="525.5" width="2.91" height="4.7" fill="#ff1493"/>
<rect x="131.74" y="530.2" width="2.91" height="1.76" fill="#2e8b57"/>
<rect x="135.38" y="530.2" width="2.91" height="17.61" fill="#00ffff"/>
<rect x="135.38" y="527.85" width="2.91" height="2.35" fill="#ff1493"/>
<rect x="135.38" y="530.2" width="2.91" height="1.76" fill="#2e8b57"/>
<rect x="139.03" y="530.2" width="2.91" height="18.78" fill="#00ffff"/>
<rect x="139.03" y="530.2" width="2.91" height="1.76" fill="#2e8b57"/>
<rect x="139.03" y="530.2" width="2.91" height="1.17" fill="#ff1493"/>
<rect x="142.66" y="530.2" width="2.91" height="17.61" fill="#00ffff"/>
<rect x="142.66" y="528.44" width="2.91" height="1.76" fill="#ff00ff"/>
<rect x="142.66" y="530.2" width="2.91" height="1.76" fill="#2e8b57"/>
<rect x="146.3" y="530.2" width="2.91" height="21.72" fill="#00ffff"/>
<rect x="146.3" y="530.2" width="2.91" height="5.87" fill="#ff1493"/>
<rect x="146.3" y="530.2" width="2.91" height="1.76" fill="#2e8b57"/>
<rect x="149.94" y="517.87" width="2.91" height="12.33" fill="#ff1493"/>
<rect x="149.94" y="530.2" width="2.91" height="7.63" fill="#00ffff"/>
<rect x="153.59" y="530.2" width="2.91" height="19.37" fill="#00ffff"/>
<rect x="153.59" y="530.2" width="2.91" height="3.52" fill="#ff1493"/>
<rect x="157.22" y="530.2" width="2.91" height="9.39" fill="#00ffff"/>
<rect x="157.22" y="523.16" width="2.91" height="7.04" fill="#ff1493"/>
<rect x="160.86" y="530.2" width="2.91" height="11.74" fill="#00ffff"/>
<rect x="160.86" y="525.5" width="2.91" height="4.7" fill="#ff1493"/>
<rect x="164.5" y="530.2" width="2.91" height="13.5" fill="#00ffff"/>
<rect x="164.5" y="529.03" width="2.91" height="1.17" fill="#ff1493"/>
<rect x="168.15" y="521.98" width="2.91" height="8.22" fill="#ff1493"/>
<rect x="168.15" y="530.2" width="2.91" height="7.04" fill="#00ffff"/>
<rect x="171.78" y="530.2" width="2.91" height="8.22" fill="#00ffff"/>
<rect x="171.78" y="524.92" width="2.91" height="5.28" fill="#ff1493"/>
<rect x="175.42" y="530.2" width="2.91" height="8.8" fill="#00ffff"/>
<rect x="175.42" y="527.27" width="2.91" height="2.93" fill="#ff1493"/>
<rect x="179.06" y="530.2" width="2.91" height="7.04" fill="#00ffff"/>
<rect x="179.06" y="528.44" width="2.91" height="1.76" fill="#ff1493"/>
<rect x="182.71" y="530.2" width="2.91" height="4.7" fill="#00ffff"/>
<rect x="182.71" y="529.03" width="2.91" height="1.17" fill="#ff1493"/>
<rect x="186.34" y="530.2" width="2.91" height="3.52" fill="#00ffff"/>
<rect x="189.98" y="530.2" width="2.91" height="2.35" fill="#ff1493"/>
<rect x="193.62" y="527.85" width="2.91" height="2.35" fill="#ff1493"/>
<rect x="197.27" y="530.2" width="2.91" height="2.93" fill="#00ffff"/>
<rect x="200.91" y="530.2" width="2.91" height="2.05" fill="#00ffff"/>
<rect x="204.54" y="528.44" width="2.91" height="1.76" fill="#ff1493"/>
<rect x="208.18" y="530.2" width="2.91" height="2.05" fill="#ff1493"/>
<rect x="211.83" y="530.2" width="2.91" height="1.47" fill="#ff00ff"/>
<rect x="215.47" y="530.2" width="2.91" height="0.59" fill="#ff1493"/>
<rect x="219.1" y="530.2" width="2.91" height="2.35" fill="#ff1493"/>
<rect x="222.74" y="530.2" width="2.91" height="3.52" fill="#ff1493"/>
<rect x="226.39" y="528.44" width="2.91" height="1.76" fill="#00ffff"/>
<rect x="230.03" y="527.56" width="2.91" height="2.64" fill="#00ffff"/>
<rect x="230.03" y="530.2" width="2.91" height="1.47" fill="#ff1493"/>
<rect x="233.66" y="530.2" width="2.91" height="2.93" fill="#ff1493"/>
<rect x="237.3" y="528.73" width="2.91" height="1.47" fill="#00ffff"/>
<rect x="240.95" y="528.73" width="2.91" height="1.47" fill="#00ffff"/>
<rect x="244.59" y="530.2" width="2.91" height="6.46" fill="#ff1493"/>
<rect x="248.22" y="523.16" width="2.91" height="7.04" fill="#ff1493"/>
<rect x="248.22" y="530.2" width="2.91" height="3.52" fill="#ff1493"/>
<rect x="251.86" y="530.2" width="2.91" height="6.46" fill="#ff1493"/>
<rect x="251.86" y="528.44" width="2.91" height="1.76" fill="#0000ff"/>
<rect x="255.51" y="530.2" width="2.91" height="3.52" fill="#00ffff"/>
<rect x="255.51" y="527.85" width="2.91" height="2.35" fill="#ff1493"/>
<rect x="259.15" y="526.68" width="2.91" height="3.52" fill="#00ffff"/>
<rect x="259.15" y="530.2" width="2.91" height="1.47" fill="#ff1493"/>
<rect x="262.79" y="530.2" width="2.91" height="2.35" fill="#ff1493"/>
<rect x="266.43" y="528.73" width="2.91" height="1.47" fill="#00ffff"/>
<rect x="270.07" y="527.85" width="2.91" height="2.35" fill="#00ffff"/>
<rect x="273.71" y="527.85" width="2.91" height="2.35" fill="#00ffff"/>
<rect x="277.35" y="530.2" width="2.91" height="2.35" fill="#ff1493"/>
<rect x="280.99" y="526.38" width="2.91" height="3.82" fill="#00ffff"/>
<rect x="284.62" y="527.85" width="2.91" height="2.35" fill="#00ffff"/>
<rect x="284.62" y="530.2" width="2.91" height="2.05" fill="#ff1493"/>
<rect x="288.27" y="527.85" width="2.91" height="2.35" fill="#00ffff"/>
<rect x="288.27" y="530.2" width="2.91" height="2.35" fill="#ff1493"/>
<rect x="291.91" y="525.5" width="2.91" height="4.7" fill="#00ffff"/>
<rect x="295.55" y="530.2" width="2.91" height="3.52" fill="#ff1493"/>
<rect x="295.55" y="529.03" width="2.91" height="1.17" fill="#00ffff"/>
<rect x="299.19" y="530.2" width="2.91" height="2.05" fill="#ff1493"/>
<rect x="299.19" y="528.73" width="2.91" height="1.47" fill="#00ffff"/>
<rect x="302.82" y="525.21" width="2.91" height="4.99" fill="#00ffff"/>
<rect x="306.47" y="527.56" width="2.91" height="2.64" fill="#00ffff"/>
<rect x="310.11" y="530.2" width="2.91" height="2.93" fill="#ff1493"/>
<rect x="310.11" y="528.73" width="2.91" height="1.47" fill="#00ffff"/>
<rect x="313.75" y="525.21" width="2.91" height="4.99" fill="#00ffff"/>
<rect x="317.38" y="525.5" width="2.91" height="4.7" fill="#00ffff"/>
<rect x="317.38" y="530.2" width="2.91" height="2.05" fill="#ff1493"/>
<rect x="321.03" y="527.85" width="2.91" height="2.35" fill="#00ffff"/>
<rect x="321.03" y="530.2" width="2.91" height="2.35" fill="#ff1493"/>
<rect x="324.67" y="525.5" width="2.91" height="4.7" fill="#00ffff"/>
<rect x="328.31" y="527.85" width="2.91" height="2.35" fill="#00ffff"/>
<rect x="328.31" y="530.2" width="2.91" height="2.35" fill="#ff1493"/>
<rect x="331.94" y="519.63" width="2.91" height="10.57" fill="#ff1493"/>
<rect x="331.94" y="529.03" width="2.91" height="1.17" fill="#0000ff"/>
<rect x="335.59" y="522.86" width="2.91" height="7.34" fill="#00ffff"/>
<rect x="335.59" y="525.21" width="2.91" height="4.99" fill="#ff1493"/>
<rect x="335.59" y="530.2" width="2.91" height="2.05" fill="#ff1493"/>
<rect x="339.23" y="524.04" width="2.91" height="6.16" fill="#00ffff"/>
<rect x="339.23" y="530.2" width="2.91" height="2.35" fill="#ff1493"/>
<rect x="342.87" y="524.33" width="2.91" height="5.87" fill="#00ffff"/>
<rect x="342.87" y="530.2" width="2.91" height="1.76" fill="#ff1493"/>
<rect x="346.5" y="526.68" width="2.91" height="3.52" fill="#00ffff"/>
<rect x="350.15" y="530.2" width="2.91" height="3.52" fill="#ff1493"/>
<rect x="350.15" y="528.44" width="2.91" height="1.76" fill="#00ffff"/>
<rect x="353.79" y="530.2" width="2.91" height="2.93" fill="#ff1493"/>
<rect x="353.79" y="527.85" width="2.91" height="2.35" fill="#00ffff"/>
<rect x="357.43" y="525.5" width="2.91" height="4.7" fill="#00ffff"/>
<rect x="357.43" y="530.2" width="2.91" height="1.17" fill="#ff1493"/>
<rect x="361.06" y="525.5" width="2.91" height="4.7" fill="#00ffff"/>
<rect x="361.06" y="530.2" width="2.91" height="2.35" fill="#ff1493"/>
<rect x="364.71" y="525.21" width="2.91" height="4.99" fill="#00ffff"/>
<rect x="364.71" y="530.2" width="2.91" height="1.17" fill="#ff1493"/>
<rect x="368.35" y="523.74" width="2.91" height="6.46" fill="#00ffff"/>
<rect x="368.35" y="530.2" width="2.91" height="1.17" fill="#ff1493"/>
<rect x="371.99" y="521.98" width="2.91" height="8.22" fill="#00ffff"/>
<rect x="371.99" y="530.2" width="2.91" height="2.05" fill="#ff1493"/>
<rect x="375.62" y="521.4" width="2.91" height="8.8" fill="#00ffff"/>
<rect x="375.62" y="530.2" width="2.91" height="1.76" fill="#ff1493"/>
<rect x="379.27" y="521.98" width="2.91" height="8.22" fill="#00ffff"/>
<rect x="379.27" y="530.2" width="2.91" height="2.35" fill="#ff1493"/>
<rect x="382.91" y="522.86" width="2.91" height="7.34" fill="#00ffff"/>
<rect x="382.91" y="530.2" width="2.91" height="4.4" fill="#ff1493"/>
<rect x="386.55" y="530.2" width="2.91" height="6.46" fill="#ff1493"/>
<rect x="386.55" y="524.04" width="2.91" height="6.16" fill="#00ffff"/>
<rect x="390.19" y="530.2" width="2.91" height="7.92" fill="#ff1493"/>
<rect x="390.19" y="525.21" width="2.91" height="4.99" fill="#00ffff"/>
<rect x="393.82" y="530.2" width="2.91" height="10.27" fill="#ff1493"/>
<rect x="393.82" y="526.68" width="2.91" height="3.52" fill="#00ffff"/>
<rect x="397.47" y="530.2" width="2.91" height="12.62" fill="#ff1493"/>
<rect x="397.47" y="528.44" width="2.91" height="1.76" fill="#00ffff"/>
<rect x="401.11" y="530.2" width="2.91" height="1.17" fill="#2e8b57"/>
<rect x="404.75" y="530.2" width="2.91" height="1.17" fill="#2e8b57"/>
<rect x="408.38" y="530.2" width="2.91" height="1.17" fill="#2e8b57"/>
<rect x="412.03" y="530.2" width="2.91" height="1.17" fill="#2e8b57"/>
<rect x="415.67" y="530.2" width="2.91" height="1.17" fill="#2e8b57"/>
<rect x="419.31" y="530.2" width="2.91" height="1.17" fill="#2e8b57"/>
<rect x="422.94" y="530.2" width="2.91" height="1.17" fill="#2e8b57"/>
<rect x="426.59" y="530.2" width="2.91" height="1.17" fill="#2e8b57"/>
<rect x="430.23" y="530.2" width="2.91" height="1.17" fill="#2e8b57"/>
<rect x="433.87" y="530.2" width="2.91" height="1.17" fill="#2e8b57"/>
<rect x="437.5" y="530.2" width="2.91" height="1.17" fill="#2e8b57"/>
<rect x="437.5" y="530.06" width="2.91" height="0.14" fill="#ff0000"/>
<rect x="441.15" y="530.2" width="2.91" height="1.17" fill="#2e8b57"/>
<rect x="441.15" y="529.94" width="2.91" height="0.26" fill="#ff0000"/>
<rect x="444.79" y="530.2" width="2.91" height="1.17" fill="#2e8b57"/>
<rect x="444.79" y="529.83" width="2.91" height="0.37" fill="#ff0000"/>
<rect x="448.43" y="530.2" width="2.91" height="1.17" fill="#2e8b57"/>
<rect x="448.43" y="529.72" width="2.91" height="0.48" fill="#ff0000"/>
<rect x="452.06" y="530.2" width="2.91" height="1.17" fill="#2e8b57"/>
<rect x="452.06" y="529.61" width="2.91" height="0.59" fill="#ff0000"/>
<rect x="455.71" y="530.2" width="2.91" height="1.17" fill="#2e8b57"/>
<rect x="455.71" y="529.5" width="2.91" height="0.7" fill="#ff0000"/>
<rect x="459.35" y="530.2" width="2.91" height="1.17" fill="#2e8b57"/>
<rect x="459.35" y="529.4" width="2.91" height="0.8" fill="#ff0000"/>
<rect x="462.99" y="530.2" width="2.91" height="1.17" fill="#2e8b57"/>
<rect x="462.99" y="529.3" width="2.91" height="0.9" fill="#ff0000"/>
<rect x="466.62" y="530.2" width="2.91" height="1.17" fill="#2e8b57"/>
<rect x="466.62" y="529.2" width="2.91" height="1" fill="#ff0000"/>
<rect x="470.27" y="530.2" width="2.91" height="1.17" fill="#2e8b57"/>
<rect x="470.27" y="529.1" width="2.91" height="1.1" fill="#ff0000"/>
<rect x="473.91" y="529" width="2.91" height="1.2" fill="#ff0000"/>
<rect x="473.91" y="530.2" width="2.91" height="1.17" fill="#2e8b57"/>
<rect x="477.55" y="528.9" width="2.91" height="1.3" fill="#ff0000"/>
<rect x="477.55" y="530.2" width="2.91" height="1.17" fill="#2e8b57"/>
<rect x="481.19" y="528.8" width="2.91" height="1.4" fill="#ff0000"/>
<rect x="481.19" y="530.2" width="2.91" height="1.17" fill="#2e8b57"/>
<rect x="484.83" y="528.71" width="2.91" height="1.49" fill="#ff0000"/>
<rect x="484.83" y="530.2" width="2.91" height="1.17" fill="#2e8b57"/>
<rect x="488.47" y="528.61" width="2.91" height="1.59" fill="#ff0000"/>
<rect x="488.47" y="530.2" width="2.91" height="1.17" fill="#2e8b57"/>
<rect x="492.11" y="528.52" width="2.91" height="1.68" fill="#ff0000"/>
<rect x="492.11" y="530.2" width="2.91" height="1.17" fill="#2e8b57"/>
<rect x="495.75" y="528.42" width="2.91" height="1.78" fill="#ff0000"/>
<rect x="495.75" y="530.2" width="2.91" height="1.17" fill="#2e8b57"/>
<rect x="499.39" y="528.33" width="2.91" height="1.87" fill="#ff0000"/>
<rect x="499.39" y="530.2" width="2.91" height="1.17" fill="#2e8b57"/>
<rect x="503.03" y="528.23" width="2.91" height="1.97" fill="#ff0000"/>
<rect x="503.03" y="530.2" width="2.91" height="1.17" fill="#2e8b57"/>
<rect x="506.67" y="528.14" width="2.91" height="2.06" fill="#ff0000"/>
<rect x="506.67" y="530.2" width="2.91" height="1.17" fill="#2e8b57"/>
<rect x="510.31" y="528.05" width="2.91" height="2.15" fill="#ff0000"/>
<rect x="510.31" y="530.2" width="2.91" height="1.17" fill="#2e8b57"/>
<rect x="513.94" y="527.96" width="2.91" height="2.24" fill="#ff0000"/>
<rect x="513.94" y="530.2" width="2.91" height="1.17" fill="#2e8b57"/>
<rect x="517.59" y="527.87" width="2.91" height="2.33" fill="#ff0000"/>
<rect x="517.59" y="530.2" width="2.91" height="1.17" fill="#2e8b57"/>
<rect x="521.23" y="527.77" width="2.91" height="2.43" fill="#ff0000"/>
<rect x="521.23" y="530.2" width="2.91" height="1.17" fill="#2e8b57"/>
<rect x="524.87" y="527.68" width="2.91" height="2.52" fill="#ff0000"/>
<rect x="524.87" y="530.2" width="2.91" height="1.17" fill="#2e8b57"/>
<rect x="528.5" y="527.59" width="2.91" height="2.61" fill="#ff0000"/>
<rect x="528.5" y="530.2" width="2.91" height="1.17" fill="#2e8b57"/>
<rect x="532.14" y="527.5" width="2.91" height="2.7" fill="#ff0000"/>
<rect x="532.14" y="530.2" width="2.91" height="1.17" fill="#2e8b57"/>
<rect x="535.78" y="527.41" width="2.91" height="2.79" fill="#ff0000"/>
<rect x="535.78" y="530.2" width="2.91" height="1.17" fill="#2e8b57"/>
<rect x="539.42" y="527.32" width="2.91" height="2.88" fill="#ff0000"/>
<rect x="539.42" y="530.2" width="2.91" height="1.17" fill="#2e8b57"/>
<rect x="543.06" y="527.23" width="2.91" height="2.97" fill="#ff0000"/>
<rect x="543.06" y="530.2" width="2.91" height="1.17" fill="#2e8b57"/>
<rect x="546.71" y="527.15" width="2.91" height="3.05" fill="#ff0000"/>
<rect x="546.71" y="530.2" width="2.91" height="1.17" fill="#2e8b57"/>
<rect x="550.35" y="527.06" width="2.91" height="3.14" fill="#ff0000"/>
<rect x="550.35" y="530.2" width="2.91" height="1.17" fill="#2e8b57"/>
<rect x="553.99" y="526.97" width="2.91" height="3.23" fill="#ff0000"/>
<rect x="553.99" y="530.2" width="2.91" height="1.17" fill="#2e8b57"/>
<rect x="557.62" y="526.88" width="2.91" height="3.32" fill="#ff0000"/>
<rect x="557.62" y="530.2" width="2.91" height="1.17" fill="#2e8b57"/>
<rect x="561.26" y="526.79" width="2.91" height="3.41" fill="#ff0000"/>
<rect x="561.26" y="530.2" width="2.91" height="1.17" fill="#2e8b57"/>
<rect x="564.9" y="526.71" width="2.91" height="3.49" fill="#ff0000"/>
<rect x="564.9" y="530.2" width="2.91" height="1.17" fill="#2e8b57"/>
<rect x="568.55" y="526.62" width="2.91" height="3.58" fill="#ff0000"/>
<rect x="568.55" y="530.2" width="2.91" height="1.17" fill="#2e8b57"/>
<rect x="572.19" y="526.53" width="2.91" height="3.67" fill="#ff0000"/>
<rect x="572.19" y="530.2" width="2.91" height="1.17" fill="#2e8b57"/>
<rect x="575.83" y="526.44" width="2.91" height="3.76" fill="#ff0000"/>
<rect x="575.83" y="530.2" width="2.91" height="1.17" fill="#2e8b57"/>
<rect x="579.47" y="526.36" width="2.91" height="3.84" fill="#ff0000"/>
<rect x="579.47" y="530.2" width="2.91" height="1.17" fill="#2e8b57"/>
<rect x="583.11" y="526.27" width="2.91" height="3.93" fill="#ff0000"/>
<rect x="583.11" y="530.2" width="2.91" height="1.17" fill="#2e8b57"/>
<rect x="586.75" y="526.19" width="2.91" height="4.01" fill="#ff0000"/>
<rect x="586.75" y="530.2" width="2.91" height="1.17" fill="#2e8b57"/>
<rect x="590.38" y="526.1" width="2.91" height="4.1" fill="#ff0000"/>
<rect x="590.38" y="530.2" width="2.91" height="1.17" fill="#2e8b57"/>
<rect x="594.02" y="526.01" width="2.91" height="4.19" fill="#ff0000"/>
<rect x="594.02" y="530.2" width="2.91" height="1.17" fill="#2e8b57"/>
<rect x="597.67" y="525.93" width="2.91" height="4.27" fill="#ff0000"/>
<rect x="597.67" y="530.2" width="2.91" height="1.17" fill="#2e8b57"/>
<rect x="601.31" y="525.84" width="2.91" height="4.36" fill="#ff0000"/>
<rect x="601.31" y="530.2" width="2.91" height="1.17" fill="#2e8b57"/>
<rect x="604.95" y="525.76" width="2.91" height="4.44" fill="#ff0000"/>
<rect x="604.95" y="530.2" width="2.91" height="1.17" fill="#2e8b57"/>
<rect x="608.59" y="525.67" width="2.91" height="4.53" fill="#ff0000"/>
<rect x="608.59" y="530.2" width="2.91" height="1.17" fill="#2e8b57"/>
<rect x="612.23" y="525.59" width="2.91" height="4.61" fill="#ff0000"/>
<rect x="612.23" y="530.2" width="2.91" height="1.17" fill="#2e8b57"/>
<rect x="615.87" y="525.5" width="2.91" height="4.7" fill="#ff0000"/>
<rect x="615.87" y="530.2" width="2.91" height="1.17" fill="#2e8b57"/>
</g>
<rect x="42.05" y="0.5" width="582.9" height="117.7" fill="none" stroke="#7c7c7c" stroke-width="0.9"/>
<line x1="39.65" x2="42.05" y1="8.09" y2="8.09" stroke="#7c7c7c" stroke-width="0.8"/>
<text x="36.9" y="12.24" text-anchor="end" font-family='"Liberation Sans", Arial, Helvetica, sans-serif' font-size="11.5" letter-spacing="-0.1" fill="#000" stroke="#000" stroke-width="0.25">180</text>
<line x1="39.65" x2="42.05" y1="31.62" y2="31.62" stroke="#7c7c7c" stroke-width="0.8"/>
<text x="36.9" y="35.77" text-anchor="end" font-family='"Liberation Sans", Arial, Helvetica, sans-serif' font-size="11.5" letter-spacing="-0.1" fill="#000" stroke="#000" stroke-width="0.25">120</text>
<line x1="39.65" x2="42.05" y1="55.16" y2="55.16" stroke="#7c7c7c" stroke-width="0.8"/>
<text x="36.9" y="59.31" text-anchor="end" font-family='"Liberation Sans", Arial, Helvetica, sans-serif' font-size="11.5" letter-spacing="-0.1" fill="#000" stroke="#000" stroke-width="0.25">60</text>
<line x1="39.65" x2="42.05" y1="78.7" y2="78.7" stroke="#7c7c7c" stroke-width="0.8"/>
<text x="36.9" y="82.85" text-anchor="end" font-family='"Liberation Sans", Arial, Helvetica, sans-serif' font-size="11.5" letter-spacing="-0.1" fill="#000" stroke="#000" stroke-width="0.25">0</text>
<line x1="39.65" x2="42.05" y1="102.24" y2="102.24" stroke="#7c7c7c" stroke-width="0.8"/>
<text x="36.9" y="106.39" text-anchor="end" font-family='"Liberation Sans", Arial, Helvetica, sans-serif' font-size="11.5" letter-spacing="-0.1" fill="#000" stroke="#000" stroke-width="0.25">−<tspan dx="1.3">60</tspan></text>
<text transform="translate(9.3,59.95) rotate(-90)" text-anchor="middle" font-family='"Liberation Sans", Arial, Helvetica, sans-serif' font-size="11.8" textLength="87.5" lengthAdjust="spacing" fill="#000" stroke="#000" stroke-width="0.15">percentage(%)</text>
<text x="223.8" y="43.8" font-family='"DejaVu Sans", "Liberation Sans", sans-serif' font-size="26.7" fill="#000">(n,γ)</text>
<rect x="42.05" y="118.2" width="582.9" height="117.7" fill="none" stroke="#7c7c7c" stroke-width="0.9"/>
<line x1="39.65" x2="42.05" y1="130.3" y2="130.3" stroke="#7c7c7c" stroke-width="0.8"/>
<text x="36.9" y="134.45" text-anchor="end" font-family='"Liberation Sans", Arial, Helvetica, sans-serif' font-size="11.5" letter-spacing="-0.1" fill="#000" stroke="#000" stroke-width="0.25">180</text>
<line x1="39.65" x2="42.05" y1="152.8" y2="152.8" stroke="#7c7c7c" stroke-width="0.8"/>
<text x="36.9" y="156.95" text-anchor="end" font-family='"Liberation Sans", Arial, Helvetica, sans-serif' font-size="11.5" letter-spacing="-0.1" fill="#000" stroke="#000" stroke-width="0.25">120</text>
<line x1="39.65" x2="42.05" y1="175.3" y2="175.3" stroke="#7c7c7c" stroke-width="0.8"/>
<text x="36.9" y="179.45" text-anchor="end" font-family='"Liberation Sans", Arial, Helvetica, sans-serif' font-size="11.5" letter-spacing="-0.1" fill="#000" stroke="#000" stroke-width="0.25">60</text>
<line x1="39.65" x2="42.05" y1="197.8" y2="197.8" stroke="#7c7c7c" stroke-width="0.8"/>
<text x="36.9" y="201.95" text-anchor="end" font-family='"Liberation Sans", Arial, Helvetica, sans-serif' font-size="11.5" letter-spacing="-0.1" fill="#000" stroke="#000" stroke-width="0.25">0</text>
<line x1="39.65" x2="42.05" y1="220.3" y2="220.3" stroke="#7c7c7c" stroke-width="0.8"/>
<text x="36.9" y="224.45" text-anchor="end" font-family='"Liberation Sans", Arial, Helvetica, sans-serif' font-size="11.5" letter-spacing="-0.1" fill="#000" stroke="#000" stroke-width="0.25">−<tspan dx="1.3">60</tspan></text>
<text transform="translate(9.3,177.65) rotate(-90)" text-anchor="middle" font-family='"Liberation Sans", Arial, Helvetica, sans-serif' font-size="11.8" textLength="87.5" lengthAdjust="spacing" fill="#000" stroke="#000" stroke-width="0.15">percentage(%)</text>
<text x="223.8" y="164.3" font-family='"DejaVu Sans", "Liberation Sans", sans-serif' font-size="26.7" fill="#000">(α,n)</text>
<rect x="42.05" y="235.9" width="582.9" height="117.7" fill="none" stroke="#7c7c7c" stroke-width="0.9"/>
<line x1="39.65" x2="42.05" y1="250.26" y2="250.26" stroke="#7c7c7c" stroke-width="0.8"/>
<text x="36.9" y="254.41" text-anchor="end" font-family='"Liberation Sans", Arial, Helvetica, sans-serif' font-size="11.5" letter-spacing="-0.1" fill="#000" stroke="#000" stroke-width="0.25">120</text>
<line x1="39.65" x2="42.05" y1="278.38" y2="278.38" stroke="#7c7c7c" stroke-width="0.8"/>
<text x="36.9" y="282.53" text-anchor="end" font-family='"Liberation Sans", Arial, Helvetica, sans-serif' font-size="11.5" letter-spacing="-0.1" fill="#000" stroke="#000" stroke-width="0.25">60</text>
<line x1="39.65" x2="42.05" y1="306.5" y2="306.5" stroke="#7c7c7c" stroke-width="0.8"/>
<text x="36.9" y="310.65" text-anchor="end" font-family='"Liberation Sans", Arial, Helvetica, sans-serif' font-size="11.5" letter-spacing="-0.1" fill="#000" stroke="#000" stroke-width="0.25">0</text>
<line x1="39.65" x2="42.05" y1="334.62" y2="334.62" stroke="#7c7c7c" stroke-width="0.8"/>
<text x="36.9" y="338.77" text-anchor="end" font-family='"Liberation Sans", Arial, Helvetica, sans-serif' font-size="11.5" letter-spacing="-0.1" fill="#000" stroke="#000" stroke-width="0.25">−<tspan dx="1.3">60</tspan></text>
<text transform="translate(9.3,295.35) rotate(-90)" text-anchor="middle" font-family='"Liberation Sans", Arial, Helvetica, sans-serif' font-size="11.8" textLength="87.5" lengthAdjust="spacing" fill="#000" stroke="#000" stroke-width="0.15">percentage(%)</text>
<text x="223.8" y="278" font-family='"DejaVu Sans", "Liberation Sans", sans-serif' font-size="26.7" fill="#000">(n,p)</text>
<rect x="42.05" y="353.6" width="582.9" height="117.7" fill="none" stroke="#7c7c7c" stroke-width="0.9"/>
<line x1="39.65" x2="42.05" y1="377.38" y2="377.38" stroke="#7c7c7c" stroke-width="0.8"/>
<text x="36.9" y="381.53" text-anchor="end" font-family='"Liberation Sans", Arial, Helvetica, sans-serif' font-size="11.5" letter-spacing="-0.1" fill="#000" stroke="#000" stroke-width="0.25">6</text>
<line x1="39.65" x2="42.05" y1="412.6" y2="412.6" stroke="#7c7c7c" stroke-width="0.8"/>
<text x="36.9" y="416.75" text-anchor="end" font-family='"Liberation Sans", Arial, Helvetica, sans-serif' font-size="11.5" letter-spacing="-0.1" fill="#000" stroke="#000" stroke-width="0.25">0</text>
<line x1="39.65" x2="42.05" y1="447.82" y2="447.82" stroke="#7c7c7c" stroke-width="0.8"/>
<text x="36.9" y="451.97" text-anchor="end" font-family='"Liberation Sans", Arial, Helvetica, sans-serif' font-size="11.5" letter-spacing="-0.1" fill="#000" stroke="#000" stroke-width="0.25">−<tspan dx="1.3">6</tspan></text>
<text transform="translate(13.2,413.05) rotate(-90)" text-anchor="middle" font-family='"Liberation Sans", Arial, Helvetica, sans-serif' font-size="11.8" textLength="87.5" lengthAdjust="spacing" fill="#000" stroke="#000" stroke-width="0.15">percentage(%)</text>
<text x="223.8" y="388.8" font-family='"DejaVu Sans", "Liberation Sans", sans-serif' font-size="26.7" fill="#000">(α,p)</text>
<rect x="42.05" y="471.3" width="582.9" height="117.7" fill="none" stroke="#7c7c7c" stroke-width="0.9"/>
<line x1="39.65" x2="42.05" y1="494.98" y2="494.98" stroke="#7c7c7c" stroke-width="0.8"/>
<text x="36.9" y="499.13" text-anchor="end" font-family='"Liberation Sans", Arial, Helvetica, sans-serif' font-size="11.5" letter-spacing="-0.1" fill="#000" stroke="#000" stroke-width="0.25">6</text>
<line x1="39.65" x2="42.05" y1="530.2" y2="530.2" stroke="#7c7c7c" stroke-width="0.8"/>
<text x="36.9" y="534.35" text-anchor="end" font-family='"Liberation Sans", Arial, Helvetica, sans-serif' font-size="11.5" letter-spacing="-0.1" fill="#000" stroke="#000" stroke-width="0.25">0</text>
<line x1="39.65" x2="42.05" y1="565.42" y2="565.42" stroke="#7c7c7c" stroke-width="0.8"/>
<text x="36.9" y="569.57" text-anchor="end" font-family='"Liberation Sans", Arial, Helvetica, sans-serif' font-size="11.5" letter-spacing="-0.1" fill="#000" stroke="#000" stroke-width="0.25">−<tspan dx="1.3">6</tspan></text>
<text transform="translate(13.2,530.75) rotate(-90)" text-anchor="middle" font-family='"Liberation Sans", Arial, Helvetica, sans-serif' font-size="11.8" textLength="87.5" lengthAdjust="spacing" fill="#000" stroke="#000" stroke-width="0.15">percentage(%)</text>
<text x="223.8" y="506.1" font-family='"DejaVu Sans", "Liberation Sans", sans-serif' font-size="26.7" fill="#000">(p,γ)</text>
<line x1="41.6" x2="625.4" y1="589.05" y2="589.05" stroke="#3a3a3a" stroke-width="1.15"/>
<line x1="41.6" x2="625.4" y1="0.5" y2="0.5" stroke="#4a4a4a" stroke-width="1"/>
<line x1="42.05" x2="42.05" y1="589" y2="591.2" stroke="#7c7c7c" stroke-width="0.8"/>
<text x="41.45" y="604.9" text-anchor="middle" font-family='"Liberation Sans", Arial, Helvetica, sans-serif' font-size="15.8" letter-spacing="0" fill="#000" stroke="#000" stroke-width="0.2">40</text>
<line x1="114.91" x2="114.91" y1="589" y2="591.2" stroke="#7c7c7c" stroke-width="0.8"/>
<text x="114.31" y="604.9" text-anchor="middle" font-family='"Liberation Sans", Arial, Helvetica, sans-serif' font-size="15.8" letter-spacing="0" fill="#000" stroke="#000" stroke-width="0.2">60</text>
<line x1="187.78" x2="187.78" y1="589" y2="591.2" stroke="#7c7c7c" stroke-width="0.8"/>
<text x="187.18" y="604.9" text-anchor="middle" font-family='"Liberation Sans", Arial, Helvetica, sans-serif' font-size="15.8" letter-spacing="0" fill="#000" stroke="#000" stroke-width="0.2">80</text>
<line x1="260.64" x2="260.64" y1="589" y2="591.2" stroke="#7c7c7c" stroke-width="0.8"/>
<text x="260.04" y="604.9" text-anchor="middle" font-family='"Liberation Sans", Arial, Helvetica, sans-serif' font-size="15.8" letter-spacing="0" fill="#000" stroke="#000" stroke-width="0.2">100</text>
<line x1="333.5" x2="333.5" y1="589" y2="591.2" stroke="#7c7c7c" stroke-width="0.8"/>
<text x="332.9" y="604.9" text-anchor="middle" font-family='"Liberation Sans", Arial, Helvetica, sans-serif' font-size="15.8" letter-spacing="0" fill="#000" stroke="#000" stroke-width="0.2">120</text>
<line x1="406.36" x2="406.36" y1="589" y2="591.2" stroke="#7c7c7c" stroke-width="0.8"/>
<text x="405.76" y="604.9" text-anchor="middle" font-family='"Liberation Sans", Arial, Helvetica, sans-serif' font-size="15.8" letter-spacing="0" fill="#000" stroke="#000" stroke-width="0.2">140</text>
<line x1="479.23" x2="479.23" y1="589" y2="591.2" stroke="#7c7c7c" stroke-width="0.8"/>
<text x="478.63" y="604.9" text-anchor="middle" font-family='"Liberation Sans", Arial, Helvetica, sans-serif' font-size="15.8" letter-spacing="0" fill="#000" stroke="#000" stroke-width="0.2">160</text>
<line x1="552.09" x2="552.09" y1="589" y2="591.2" stroke="#7c7c7c" stroke-width="0.8"/>
<text x="551.49" y="604.9" text-anchor="middle" font-family='"Liberation Sans", Arial, Helvetica, sans-serif' font-size="15.8" letter-spacing="0" fill="#000" stroke="#000" stroke-width="0.2">180</text>
<line x1="624.95" x2="624.95" y1="589" y2="591.2" stroke="#7c7c7c" stroke-width="0.8"/>
<text x="624.35" y="604.9" text-anchor="middle" font-family='"Liberation Sans", Arial, Helvetica, sans-serif' font-size="15.8" letter-spacing="0" fill="#000" stroke="#000" stroke-width="0.2">200</text>
<text x="333.6" y="623.2" text-anchor="middle" font-family='"Liberation Sans", Arial, Helvetica, sans-serif' font-size="16.8" fill="#000" stroke="#000" stroke-width="0.2">Mass</text>
<rect x="274.4" y="429.7" width="345" height="36.8" rx="2.2" ry="2.2" fill="#fff" fill-opacity="0.8" stroke="#cccccc" stroke-width="0.9"/>
<rect x="278.9" y="435.4" width="21.4" height="7.3" fill="#00ffff"/>
<text x="315.4" y="442.8" font-family='"Liberation Sans", Arial, Helvetica, sans-serif' font-size="10.7" fill="#000" stroke="#000" stroke-width="0.28" textLength="120.8" lengthAdjust="spacing">rate<tspan font-size="10.2" dy="1">×</tspan><tspan dy="-1"> 0.1 with tracer_2</tspan></text>
<rect x="457.7" y="435.4" width="21.4" height="7.3" fill="#2e8b57"/>
<text x="494.1" y="442.8" font-family='"Liberation Sans", Arial, Helvetica, sans-serif' font-size="10.7" fill="#000" stroke="#000" stroke-width="0.28" textLength="120.8" lengthAdjust="spacing">rate<tspan font-size="10.2" dy="1">×</tspan><tspan dy="-1"> 0.1 with tracer_4</tspan></text>
<rect x="278.9" y="452" width="21.4" height="7.3" fill="#0000ff"/>
<text x="315.4" y="459.4" font-family='"Liberation Sans", Arial, Helvetica, sans-serif' font-size="10.7" fill="#000" stroke="#000" stroke-width="0.28" textLength="120.8" lengthAdjust="spacing">rate<tspan font-size="10.2" dy="1">×</tspan><tspan dy="-1"> 0.1 with tracer_3</tspan></text>
<rect x="457.7" y="452" width="21.4" height="7.3" fill="#1e90ff"/>
<text x="494.1" y="459.4" font-family='"Liberation Sans", Arial, Helvetica, sans-serif' font-size="10.7" fill="#000" stroke="#000" stroke-width="0.28" textLength="120.8" lengthAdjust="spacing">rate<tspan font-size="10.2" dy="1">×</tspan><tspan dy="-1"> 0.1 with tracer_6</tspan></text>
<rect x="280.9" y="547.3" width="338.6" height="36.3" rx="2.2" ry="2.2" fill="#fff" fill-opacity="0.8" stroke="#cccccc" stroke-width="0.9"/>
<rect x="285.4" y="553" width="21.4" height="7.3" fill="#ff1493"/>
<text x="321.8" y="560.4" font-family='"Liberation Sans", Arial, Helvetica, sans-serif' font-size="10.7" fill="#000" stroke="#000" stroke-width="0.28" textLength="117" lengthAdjust="spacing">rate<tspan font-size="10.2" dy="1">×</tspan><tspan dy="-1"> 10 with tracer_2</tspan></text>
<rect x="460.8" y="553" width="21.4" height="7.3" fill="#ff0000"/>
<text x="497.2" y="560.4" font-family='"Liberation Sans", Arial, Helvetica, sans-serif' font-size="10.7" fill="#000" stroke="#000" stroke-width="0.28" textLength="117" lengthAdjust="spacing">rate<tspan font-size="10.2" dy="1">×</tspan><tspan dy="-1"> 10 with tracer_4</tspan></text>
<rect x="285.4" y="569.6" width="21.4" height="7.3" fill="#ff00ff"/>
<text x="321.8" y="577" font-family='"Liberation Sans", Arial, Helvetica, sans-serif' font-size="10.7" fill="#000" stroke="#000" stroke-width="0.28" textLength="117" lengthAdjust="spacing">rate<tspan font-size="10.2" dy="1">×</tspan><tspan dy="-1"> 10 with tracer_3</tspan></text>
<rect x="460.8" y="569.6" width="21.4" height="7.3" fill="#ff6347"/>
<text x="497.2" y="577" font-family='"Liberation Sans", Arial, Helvetica, sans-serif' font-size="10.7" fill="#000" stroke="#000" stroke-width="0.28" textLength="117" lengthAdjust="spacing">rate<tspan font-size="10.2" dy="1">×</tspan><tspan dy="-1"> 10 with tracer_6</tspan></text>
</svg></body></html>
